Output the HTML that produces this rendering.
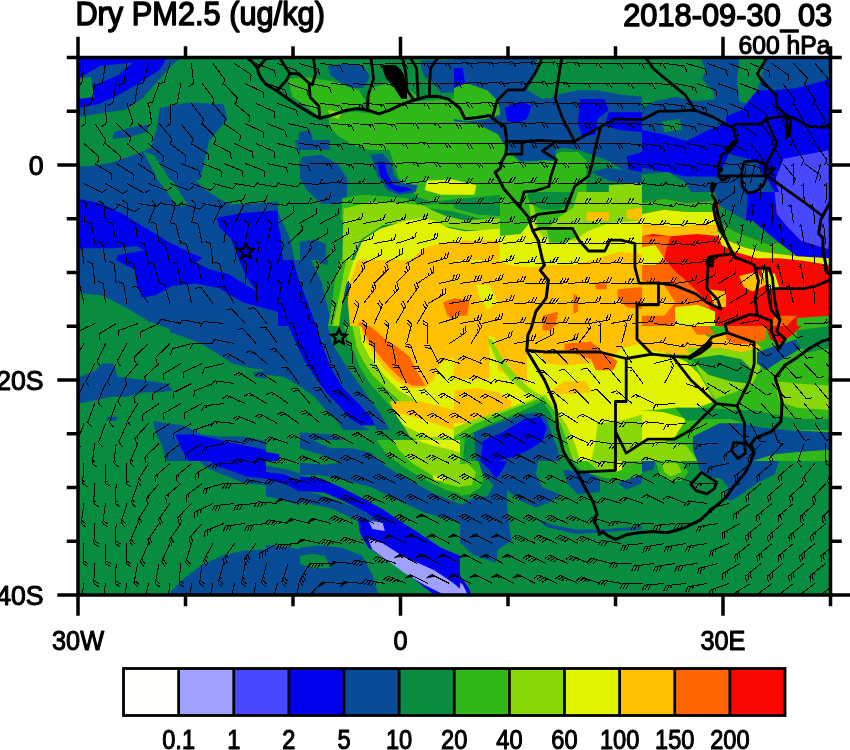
<!DOCTYPE html>
<html><head><meta charset="utf-8"><title>Dry PM2.5</title>
<style>html,body{margin:0;padding:0;background:#fff;}svg{display:block;}</style>
</head><body>
<svg width="850" height="750" viewBox="0 0 850 750">
<defs><clipPath id="c"><rect x="78.00" y="57.50" width="752.50" height="537.50"/></clipPath></defs>
<g clip-path="url(#c)">
<rect x="78.00" y="57.50" width="752.50" height="537.50" fill="#088c40"/>
<defs><clipPath id="t00"><rect x="78" y="57" width="188.5" height="135"/></clipPath><clipPath id="t01"><rect x="266" y="57" width="188.5" height="135"/></clipPath><clipPath id="t02"><rect x="454" y="57" width="188.5" height="135"/></clipPath><clipPath id="t03"><rect x="642" y="57" width="188.5" height="135"/></clipPath><clipPath id="t10"><rect x="78" y="192" width="188.5" height="135"/></clipPath><clipPath id="t11"><rect x="266" y="192" width="188.5" height="135"/></clipPath><clipPath id="t12"><rect x="454" y="192" width="188.5" height="135"/></clipPath><clipPath id="t13"><rect x="642" y="192" width="188.5" height="135"/></clipPath><clipPath id="t20"><rect x="78" y="326" width="188.5" height="135"/></clipPath><clipPath id="t21"><rect x="266" y="326" width="188.5" height="135"/></clipPath><clipPath id="t22"><rect x="454" y="326" width="188.5" height="135"/></clipPath><clipPath id="t23"><rect x="642" y="326" width="188.5" height="135"/></clipPath><clipPath id="t30"><rect x="78" y="461" width="188.5" height="135"/></clipPath><clipPath id="t31"><rect x="266" y="461" width="188.5" height="135"/></clipPath><clipPath id="t32"><rect x="454" y="461" width="188.5" height="135"/></clipPath><clipPath id="t33"><rect x="642" y="461" width="188.5" height="135"/></clipPath><clipPath id="p0"><rect x="300" y="440" width="160" height="155"/></clipPath><clipPath id="p1"><rect x="130" y="140" width="200" height="120"/></clipPath><clipPath id="p2"><rect x="78" y="57" width="200" height="273"/></clipPath><clipPath id="p3"><rect x="300" y="150" width="200" height="110"/></clipPath><clipPath id="p4"><rect x="78" y="180" width="200" height="150"/></clipPath></defs><g clip-path="url(#t00)"><g transform="translate(78 57) scale(0.221176)"><rect x="-5" y="-5" width="860" height="620" fill="#088c40"/><polygon points="0,0 470,0 460,50 425,77 348,149 299,190 240,210 176,244 77,235 0,245" fill="#084c98"/><polygon points="0,100 45,100 50,190 0,200" fill="#088c40"/><polygon points="0,0 150,0 145,40 90,70 0,80" fill="#0000f0"/><polygon points="226,0 393,0 360,60 310,110 220,150 140,200 80,235 60,220 120,170 180,120 230,60" fill="#0000f0"/><polygon points="0,330 100,310 190,260 240,230 300,215 300,250 280,300 200,330 100,380 0,400" fill="#084c98"/><polygon points="0,470 100,460 200,450 270,430 310,440 300,500 330,610 0,610" fill="#084c98"/><polygon points="420,230 560,220 760,215 760,260 700,320 650,350 590,420 560,520 520,520 420,510 370,440 380,350 400,280" fill="#084c98"/><polygon points="560,30 600,30 610,70 570,70" fill="#084c98"/><polygon points="650,380 720,370 700,420 660,430" fill="#084c98"/></g></g>
<g clip-path="url(#t01)"><g transform="translate(266 57) scale(0.221176)"><rect x="-5" y="-5" width="860" height="620" fill="#088c40"/><polygon points="280,40 350,30 440,40 470,90 440,140 380,140 330,110 290,80" fill="#084c98"/><polygon points="700,15 850,15 850,160 790,160 760,120 720,90 700,50" fill="#084c98"/><polygon points="100,100 180,90 300,110 420,150 450,200 400,235 300,250 240,270 180,220 120,180" fill="#30b818"/><polygon points="470,140 560,120 650,150 700,190 650,200 510,260 470,240" fill="#30b818"/><polygon points="280,270 400,245 510,262 650,205 850,185 850,610 590,610 560,500 520,440 470,420 400,400 330,360 290,320" fill="#30b818"/><polygon points="280,240 340,250 330,280 290,270" fill="#88d808"/><polygon points="150,340 200,330 220,400 260,450 320,480 340,540 330,610 170,610 160,520 130,480 100,460 140,420" fill="#084c98"/><polygon points="340,470 470,440 490,610 340,610" fill="#088c40"/><polygon points="470,440 520,430 560,470 580,540 600,590 560,610 500,610 480,540" fill="#084c98"/><polygon points="500,480 530,470 550,520 540,560 520,560 505,520" fill="#0000f0"/><polygon points="540,580 600,570 640,600 620,610 550,610" fill="#0000f0"/><polygon points="620,470 700,440 850,430 850,540 720,550 640,540" fill="#88d808"/><polygon points="720,550 800,540 850,530 850,610 720,610" fill="#e0f400"/></g></g>
<g clip-path="url(#t02)"><g transform="translate(454 57) scale(0.221176)"><rect x="-5" y="-5" width="860" height="620" fill="#088c40"/><polygon points="0,0 380,0 360,90 330,150 400,190 470,170 560,150 650,150 750,170 850,180 850,530 760,510 700,470 620,440 560,420 490,410 420,440 380,470 300,470 240,420 180,360 100,330 0,290" fill="#084c98"/><polygon points="380,0 850,0 850,170 760,160 650,140 560,140 480,160 430,190 370,150 360,90" fill="#088c40"/><polygon points="0,130 60,120 150,150 200,200 210,260 150,280 60,290 0,280" fill="#30b818"/><polygon points="0,50 40,50 50,120 0,140" fill="#0000f0"/><polygon points="230,230 300,200 350,220 330,280 280,300 240,290" fill="#0000f0"/><polygon points="570,190 680,190 700,240 650,280 640,350 580,360 560,300" fill="#0000f0"/><polygon points="700,250 850,250 850,340 750,330 680,310" fill="#0000f0"/><polygon points="780,450 850,430 850,520 790,510" fill="#0000f0"/><polygon points="0,290 100,300 200,350 240,420 300,480 400,470 480,430 560,430 600,470 600,610 0,610" fill="#30b818"/><polygon points="600,450 700,480 780,520 850,540 850,610 600,610" fill="#088c40"/><polygon points="620,520 700,500 850,530 850,580 700,560" fill="#084c98"/><polygon points="300,380 460,380 460,470 330,460" fill="#084c98"/><polygon points="0,500 80,510 110,560 100,610 0,610" fill="#88d808"/><polygon points="0,570 60,560 90,600 90,610 0,610" fill="#e0f400"/><polygon points="700,580 850,570 850,610 700,610" fill="#88d808"/></g></g>
<g clip-path="url(#t03)"><g transform="translate(642 57) scale(0.221176)"><rect x="-5" y="-5" width="860" height="620" fill="#084c98"/><polygon points="0,0 260,0 290,60 270,100 320,150 330,190 250,200 150,180 60,200 0,230" fill="#088c40"/><polygon points="440,0 560,0 540,90 520,150 470,210 440,200 430,100" fill="#088c40"/><polygon points="380,270 450,240 520,150 600,150 700,140 850,100 850,610 600,610 560,540 450,500 400,440 380,380" fill="#0000f0"/><polygon points="0,330 100,350 200,380 300,330 380,300 400,420 350,540 200,540 100,520 0,500" fill="#0000f0"/><polygon points="640,460 850,420 850,610 620,610 600,560" fill="#4848ff"/><polygon points="0,530 120,520 200,570 220,610 0,610" fill="#088c40"/><polygon points="400,440 520,470 560,560 500,610 350,610 340,540" fill="#084c98"/><polygon points="90,290 170,280 180,330 100,340" fill="#088c40"/></g></g>
<g clip-path="url(#t10)"><g transform="translate(78 192) scale(0.221176)"><rect x="-5" y="-5" width="860" height="620" fill="#084c98"/><polygon points="0,30 100,60 200,110 300,170 400,230 500,280 560,290 600,350 700,400 850,470 850,520 800,500 700,450 600,400 500,395 420,410 380,450 320,470 260,390 180,340 170,310 290,300 200,270 60,250 0,240" fill="#0000f0"/><polygon points="630,110 850,90 850,450 800,440 750,350 700,280 690,200 640,150" fill="#0000f0"/><polygon points="370,0 480,0 470,50 420,40" fill="#088c40"/><polygon points="570,0 850,0 850,40 700,50 620,40 580,20" fill="#088c40"/><polygon points="0,450 100,470 200,510 300,560 400,610 0,610" fill="#088c40"/></g></g>
<g clip-path="url(#t11)"><g transform="translate(266 192) scale(0.221176)"><rect x="-5" y="-5" width="860" height="620" fill="#e0f400"/><polygon points="0,220 80,230 150,270 220,320 270,380 320,430 370,470 400,610 0,610" fill="#088c40"/><polygon points="0,0 100,0 130,80 170,150 220,230 270,300 330,360 380,420 430,450 470,470 350,470 320,430 270,380 220,320 150,270 80,230 0,220" fill="#084c98"/><polygon points="0,80 50,70 90,150 110,250 150,400 190,500 230,610 0,610" fill="#0000f0"/><polygon points="60,0 110,0 120,100 150,200 200,300 250,400 290,500 300,610 230,610 190,500 150,400 110,250 90,150 50,70" fill="#084c98"/><polygon points="100,0 370,0 350,100 340,200 340,300 310,400 300,500 280,610 300,610 250,400 200,300 150,200 120,100" fill="#088c40"/><polygon points="160,220 200,220 200,300 170,300" fill="#084c98"/><polygon points="230,210 280,220 280,330 240,320" fill="#084c98"/><polygon points="210,0 260,0 250,40 215,40" fill="#084c98"/><polygon points="370,0 520,0 470,60 420,120 400,200 380,260 360,330 340,420 320,520 300,610 280,610 300,500 310,400 340,300 340,200 350,100" fill="#30b818"/><polygon points="520,0 780,0 850,40 800,100 700,80 600,120 500,150 450,200 410,260 390,330 360,430 340,530 330,610 300,610 320,520 340,420 360,330 380,260 400,200 420,120 470,60" fill="#88d808"/><polygon points="780,0 850,0 850,40" fill="#30b818"/><polygon points="420,300 500,280 600,250 700,230 800,200 850,190 850,610 380,610 370,500 380,400 400,350" fill="#ffc000"/><polygon points="800,500 850,480 850,580 820,560" fill="#ff6600"/><polygon points="420,590 445,590 445,610 420,610" fill="#ff6600"/></g></g>
<g clip-path="url(#t12)"><g transform="translate(454 192) scale(0.221176)"><rect x="-5" y="-5" width="860" height="620" fill="#ffc000"/><polygon points="0,0 850,0 850,280 750,270 650,300 550,330 450,330 350,340 250,330 200,310 100,320 0,310" fill="#e0f400"/><polygon points="0,100 200,110 350,130 400,200 450,210 550,220 600,180 700,140 850,130 850,0 0,0" fill="#88d808"/><polygon points="0,0 330,0 350,130 300,190 200,200 100,170 0,150" fill="#30b818"/><polygon points="350,0 560,0 540,70 480,110 420,170 430,230 500,230 560,200 530,160 450,170 380,170" fill="#30b818"/><polygon points="330,0 540,0 530,50 480,80 400,80 340,50" fill="#088c40"/><polygon points="600,90 700,90 700,130 600,130" fill="#ffc000"/><polygon points="780,80 850,70 850,130 780,120" fill="#ffc000"/><polygon points="100,420 160,420 200,500 150,530 120,480" fill="#e0f400"/><polygon points="0,480 70,490 60,560 0,560" fill="#ff6600"/><polygon points="640,410 690,410 690,440 640,440" fill="#ff6600"/><polygon points="740,440 850,430 850,530 780,520 740,480" fill="#ff6600"/><polygon points="400,560 470,540 460,610 400,610" fill="#ff6600"/><polygon points="540,460 560,470 560,540 540,550" fill="#ff6600"/></g></g>
<g clip-path="url(#t13)"><g transform="translate(642 192) scale(0.221176)"><rect x="-5" y="-5" width="860" height="620" fill="#f80800"/><polygon points="0,0 345,0 345,60 330,40 200,50 100,30 0,50" fill="#088c40"/><polygon points="0,50 100,30 200,50 330,40 345,60 345,100 330,90 200,90 100,80 0,100" fill="#30b818"/><polygon points="0,100 100,80 200,90 330,90 340,150 250,150 150,160 50,150 0,150" fill="#e0f400"/><polygon points="0,150 50,150 150,160 250,150 340,150 350,200 250,190 130,200 50,190 0,200" fill="#ffc000"/><polygon points="0,200 130,200 110,260 100,300 150,360 200,400 250,450 300,500 330,610 0,610" fill="#ff6600"/><polygon points="0,250 60,240 100,300 60,330 0,330" fill="#e0f400"/><polygon points="0,400 100,420 150,500 100,560 0,560" fill="#ffc000"/><polygon points="150,520 250,510 330,540 330,610 150,610" fill="#e0f400"/><polygon points="330,0 480,0 470,130 400,100 350,60" fill="#084c98"/><polygon points="480,0 600,0 610,100 660,160 720,220 850,260 850,300 700,290 620,230 560,180 500,130 470,130" fill="#0000f0"/><polygon points="600,0 850,0 850,260 720,220 660,160 610,100" fill="#4848ff"/><polygon points="350,60 470,130 500,130 560,180 620,230 580,240 500,210 420,180 370,150 340,100" fill="#088c40"/><polygon points="340,100 370,150 420,180 500,210 580,240 620,230 700,290 620,280 540,270 460,250 390,220 340,180" fill="#30b818"/><polygon points="340,180 390,220 460,250 540,270 620,280 700,290 850,300 850,330 720,310 620,300 520,300 420,270 360,240" fill="#e0f400"/><polygon points="440,380 520,360 560,420 500,450 460,430" fill="#ffc000"/><polygon points="300,440 380,450 380,520 330,520" fill="#ffc000"/><polygon points="540,350 600,370 620,430 560,440" fill="#e0f400"/><polygon points="700,570 850,560 850,610 700,610" fill="#30b818"/><polygon points="600,560 700,560 650,610 580,610" fill="#ff6600"/></g></g>
<g clip-path="url(#t20)"><g transform="translate(78 326) scale(0.221176)"><rect x="-5" y="-5" width="860" height="620" fill="#088c40"/><polygon points="400,0 850,0 850,200 780,190 700,170 620,120 560,80 480,50 420,30" fill="#084c98"/><polygon points="10,230 80,200 110,170 160,170 180,230 260,240 330,250 400,260 430,290 380,300 300,300 220,320 150,320 60,340 0,350 0,230" fill="#084c98"/><polygon points="340,430 400,440 480,450 560,490 650,500 750,500 850,520 850,610 400,610 380,540 350,480" fill="#084c98"/><polygon points="440,490 520,490 620,510 700,530 850,560 850,610 500,610 470,560" fill="#0000f0"/><polygon points="130,410 180,410 170,430 130,430" fill="#084c98"/><polygon points="790,210 850,200 850,240 800,230" fill="#084c98"/></g></g>
<g clip-path="url(#t21)"><g transform="translate(266 326) scale(0.221176)"><rect x="-5" y="-5" width="860" height="620" fill="#088c40"/><polygon points="420,0 850,0 850,420 700,360 600,300 540,240 500,190 460,130 430,70" fill="#e0f400"/><polygon points="0,0 100,0 130,80 170,150 220,230 270,300 330,360 380,420 430,450 470,470 350,470 320,430 270,380 220,320 150,270 80,230 0,220" fill="#084c98"/><polygon points="100,0 230,0 260,100 300,200 350,280 420,350 480,420 500,450 430,450 380,420 330,360 270,300 220,230 170,150 130,70" fill="#0000f0"/><polygon points="230,0 280,0 300,80 350,160 420,260 470,330 520,400 560,470 500,470 480,420 420,350 350,280 300,200 260,100" fill="#084c98"/><polygon points="280,0 350,0 370,60 400,120 420,180 470,260 550,350 620,430 680,500 700,540 600,520 560,470 520,400 470,330 420,260 350,160 300,80" fill="#088c40"/><polygon points="350,0 390,0 410,100 440,160 480,220 560,300 650,380 750,440 850,470 850,520 700,520 620,430 550,350 470,260 420,180 400,120 370,60" fill="#30b818"/><polygon points="390,0 420,0 430,70 460,130 500,180 540,230 600,290 700,350 850,400 850,470 750,440 650,380 560,300 480,220 440,160 410,100" fill="#88d808"/><polygon points="430,0 850,0 850,140 790,170 760,240 720,280 640,280 580,240 540,200 500,150 470,100 440,50" fill="#ffc000"/><polygon points="430,0 470,0 540,60 600,100 650,140 680,200 720,270 660,270 600,230 550,180 500,120 460,60" fill="#ff6600"/><polygon points="560,340 700,340 850,380 850,470 750,450 650,420 580,390" fill="#ffc000"/><polygon points="580,390 700,420 850,470 850,510 720,500 620,450" fill="#e0f400"/><polygon points="620,450 720,500 850,510 850,545 720,535 650,500" fill="#88d808"/><polygon points="650,500 720,535 850,545 850,580 700,560" fill="#30b818"/><polygon points="150,480 300,490 400,540 430,610 170,610" fill="#084c98"/><polygon points="0,570 60,580 60,610 0,610" fill="#0000f0"/><polygon points="400,520 700,540 850,520 850,610 430,610" fill="#088c40"/><polygon points="700,530 850,510 850,560 720,560" fill="#30b818"/></g></g>
<g clip-path="url(#t22)"><g transform="translate(454 326) scale(0.221176)"><rect x="-5" y="-5" width="860" height="620" fill="#e0f400"/><polygon points="0,0 850,0 850,80 760,100 700,150 600,170 500,180 420,170 380,130 330,100 280,90 200,60 150,40 100,60 50,100 0,110" fill="#ffc000"/><polygon points="0,0 160,0 160,240 0,240" fill="#ffc000"/><polygon points="180,0 330,0 330,260 200,200" fill="#ffc000"/><polygon points="500,80 620,70 660,110 700,130 740,160 720,200 640,200 620,150 560,130 500,110" fill="#ff6600"/><polygon points="400,0 450,0 440,20 400,20" fill="#ff6600"/><polygon points="150,60 170,60 220,150 280,220 340,280 400,320 380,340 320,300 250,240 200,170" fill="#88d808"/><polygon points="0,290 100,280 200,300 260,340 250,400 200,440 100,440 0,440" fill="#ffc000"/><polygon points="500,250 600,250 620,300 520,310 430,300" fill="#ffc000"/><polygon points="0,460 100,420 250,370 360,330 410,310 460,370 510,450 550,540 570,610 0,610" fill="#88d808"/><polygon points="0,500 100,440 250,380 360,340 400,320 450,380 490,460 520,550 540,610 0,610" fill="#30b818"/><polygon points="50,500 150,450 270,400 360,360 400,340 440,400 480,500 510,610 40,610" fill="#088c40"/><polygon points="90,480 200,440 300,400 380,390 420,420 440,480 470,560 480,610 100,610" fill="#084c98"/><polygon points="130,520 220,480 320,420 390,410 420,460 400,520 340,560 270,590 200,610 120,610" fill="#0000f0"/><polygon points="650,440 750,430 850,400 850,610 620,610 640,520" fill="#88d808"/></g></g>
<g clip-path="url(#t23)"><g transform="translate(642 326) scale(0.221176)"><rect x="-5" y="-5" width="860" height="620" fill="#30b818"/><polygon points="0,0 220,0 300,50 380,40 450,50 520,80 540,100 450,120 350,100 250,130 150,130 50,110 0,100" fill="#ffc000"/><polygon points="220,0 300,0 330,40 250,40" fill="#ff6600"/><polygon points="380,0 560,0 560,60 500,80 420,80 380,60" fill="#ff6600"/><polygon points="560,0 720,0 680,40 620,80 580,60" fill="#f80800"/><polygon points="0,100 100,120 200,160 260,220 300,290 330,340 250,370 150,370 50,380 0,380" fill="#e0f400"/><polygon points="0,380 100,390 200,420 150,500 100,520 0,520" fill="#e0f400"/><polygon points="200,100 350,100 450,120 520,100 540,180 500,260 420,300 330,330 300,280 260,210" fill="#88d808"/><polygon points="220,150 350,130 450,150 500,200 480,260 400,250 300,220" fill="#088c40"/><polygon points="150,370 300,370 420,380 500,380 600,400 700,420 850,420 850,470 700,470 600,470 500,450 400,420 300,420 200,430" fill="#088c40"/><polygon points="230,500 350,440 450,440 550,460 650,470 850,480 850,560 700,570 600,580 500,610 250,610 230,560" fill="#084c98"/><polygon points="520,120 600,90 700,60 720,100 620,160 560,200 520,170" fill="#084c98"/><polygon points="700,20 850,0 850,100 750,120 700,80" fill="#088c40"/><polygon points="0,520 100,520 200,540 250,610 0,610" fill="#88d808"/><polygon points="600,250 700,260 850,270 850,380 700,370 620,340" fill="#88d808"/></g></g>
<g clip-path="url(#t30)"><g transform="translate(78 461) scale(0.221176)"><rect x="-5" y="-5" width="860" height="620" fill="#088c40"/><polygon points="550,0 850,0 850,110 750,100 650,60 580,30" fill="#084c98"/><polygon points="600,0 850,0 850,80 760,70 680,40 620,20" fill="#0000f0"/><polygon points="420,590 480,530 560,470 650,430 750,405 850,400 850,610 410,610" fill="#084c98"/></g></g>
<g clip-path="url(#t31)"><g transform="translate(266 461) scale(0.221176)"><rect x="-5" y="-5" width="860" height="620" fill="#088c40"/><polygon points="300,0 560,0 640,40 720,80 850,110 850,210 720,180 600,140 500,110 400,70 330,30" fill="#084c98"/><polygon points="560,0 850,0 850,110 720,80 640,40" fill="#88d808"/><polygon points="540,0 600,0 650,30 720,70 850,100 850,120 720,90 640,50 560,10" fill="#30b818"/><polygon points="0,20 100,40 200,70 300,100 400,150 500,210 600,260 700,310 850,360 850,600 750,560 650,500 550,440 450,370 350,300 250,250 150,200 50,170 0,160" fill="#084c98"/><polygon points="0,50 80,60 150,90 250,130 350,170 430,220 500,270 560,330 620,370 700,420 780,460 850,490 850,560 760,525 650,460 560,400 480,330 400,270 300,210 200,165 100,110 0,80" fill="#0000f0"/><polygon points="450,360 520,380 600,420 700,460 780,520 850,560 850,590 780,580 700,540 600,480 500,420" fill="#a0a0ff"/><polygon points="470,270 520,270 530,320 480,310" fill="#a0a0ff"/><polygon points="0,380 100,390 200,410 250,460 300,520 350,570 400,610 0,610" fill="#084c98"/><polygon points="430,530 520,560 560,610 450,610" fill="#084c98"/><polygon points="460,540 540,570 570,610 480,610" fill="#0000f0"/></g></g>
<g clip-path="url(#t32)"><g transform="translate(454 461) scale(0.221176)"><rect x="-5" y="-5" width="860" height="620" fill="#088c40"/><polygon points="0,0 120,0 140,60 120,120 70,150 0,160" fill="#30b818"/><polygon points="0,20 60,10 100,50 80,110 0,120" fill="#88d808"/><polygon points="110,0 380,0 370,60 400,120 480,150 430,190 370,210 300,180 240,130 240,200 250,300 260,360 200,400 190,460 130,440 80,420 40,380 0,360 0,210 50,190 100,160 150,160 180,110 130,60" fill="#084c98"/><polygon points="120,0 240,0 220,40 190,80 160,40" fill="#0000f0"/><polygon points="490,40 600,50 660,80 660,140 560,150 520,110" fill="#084c98"/><polygon points="370,260 450,290 550,310 650,310 800,300 850,295 850,310 700,320 550,330 420,300" fill="#084c98"/><polygon points="540,0 850,0 850,60 780,90 700,80 620,60 560,30" fill="#30b818"/><polygon points="600,0 720,0 720,40 650,40" fill="#88d808"/><polygon points="730,0 760,0 760,40 730,50" fill="#e0f400"/><polygon points="740,100 850,60 850,100 780,130" fill="#084c98"/><polygon points="0,500 30,520 70,580 80,610 0,610" fill="#0000f0"/><polygon points="0,530 40,560 60,600 0,610" fill="#a0a0ff"/></g></g>
<g clip-path="url(#t33)"><g transform="translate(642 461) scale(0.221176)"><rect x="-5" y="-5" width="860" height="620" fill="#088c40"/><polygon points="60,0 180,0 210,50 180,90 120,90 80,60" fill="#30b818"/><polygon points="90,10 160,10 180,50 130,70 100,50" fill="#88d808"/><polygon points="0,0 60,0 50,40 0,50" fill="#084c98"/><polygon points="250,0 620,0 600,60 520,100 450,150 400,180 370,170 390,120 360,80 300,70 260,40" fill="#084c98"/></g></g>
<g clip-path="url(#p0)"><g transform="translate(300 440) scale(0.206718)"><rect x="-5" y="-5" width="784" height="759" fill="#088c40"/><polygon points="370,0 774,0 774,260 700,240 600,190 500,130 420,70" fill="#30b818"/><polygon points="450,0 774,0 774,230 700,210 620,160 540,110 480,50" fill="#88d808"/><polygon points="560,0 774,0 774,60 700,40 620,20" fill="#e0f400"/><polygon points="640,170 700,180 700,200 650,195" fill="#e0f400"/><polygon points="0,0 60,0 150,40 250,40 340,60 420,130 520,190 650,260 774,310 774,400 600,350 450,280 350,230 200,190 100,170 0,170" fill="#084c98"/><polygon points="0,40 100,70 200,110 120,120 0,110" fill="#088c40"/><polygon points="0,240 150,280 300,340 450,420 600,500 774,560 774,620 600,560 450,480 300,400 150,330 0,300" fill="#084c98"/><polygon points="0,175 100,185 200,230 300,280 400,335 480,390 560,440 680,520 774,560 774,590 700,580 620,550 520,490 420,420 320,350 220,300 120,255 0,245" fill="#0000f0"/><polygon points="280,380 400,400 500,450 600,510 700,570 774,600 774,750 650,750 560,680 450,600 330,520 290,450" fill="#0000f0"/><polygon points="330,480 400,500 480,550 560,590 650,630 740,690 774,720 774,750 700,750 600,700 500,640 420,580 350,530" fill="#a0a0ff"/><polygon points="330,390 400,400 410,440 350,430" fill="#a0a0ff"/><polygon points="0,520 100,510 200,520 300,560 350,650 380,750 0,750" fill="#084c98"/><polygon points="0,560 60,550 120,560 150,620 60,620 0,600" fill="#088c40"/></g></g>
<g clip-path="url(#p1)"><g transform="translate(130 140) scale(0.235294)"><rect x="-5" y="-5" width="860" height="520" fill="#084c98"/><polygon points="0,0 130,0 120,40 60,60 0,50" fill="#088c40"/><polygon points="70,90 110,70 150,130 200,200 240,280 200,280 150,220 100,160" fill="#088c40"/><polygon points="320,0 700,0 720,60 720,120 760,180 800,230 850,230 850,510 700,510 680,420 640,330 620,280 450,275 380,260 320,190 280,130 300,60" fill="#088c40"/><polygon points="0,340 60,350 150,400 250,450 300,510 0,510" fill="#0000f0"/><polygon points="370,330 450,315 580,305 620,330 640,400 650,510 450,510 420,420 380,370" fill="#0000f0"/></g></g>
<g clip-path="url(#p2)"><g transform="translate(78 57) scale(0.364299)"><rect x="-5" y="-5" width="559" height="759" fill="#084c98"/><polygon points="0,0 245,0 225,35 170,70 110,105 55,130 0,140" fill="#0000f0"/><polygon points="60,25 150,15 110,50 50,75 0,85 0,60" fill="#084c98"/><polygon points="0,60 35,55 45,110 0,115" fill="#088c40"/><polygon points="0,165 60,155 130,145 175,115 215,70 255,25 285,0 549,0 549,410 450,415 380,400 330,360 360,230 410,170 400,130 300,125 225,140 215,200 200,250 150,270 90,290 30,300 0,300" fill="#088c40"/><polygon points="100,205 160,190 195,185 190,205 140,220 95,225" fill="#084c98"/><polygon points="180,260 210,270 260,350 290,400 260,400 220,340" fill="#088c40"/><polygon points="0,390 60,395 130,420 200,450 280,490 350,530 430,580 500,630 549,650 549,750 470,750 400,700 320,640 230,590 150,560 60,550 0,560" fill="#0000f0"/><polygon points="380,430 460,420 549,400 549,650 500,620 470,560 430,500" fill="#0000f0"/><polygon points="0,470 80,470 160,500 250,540 330,590 400,640 380,660 300,620 200,580 110,545 0,545" fill="#084c98"/><polygon points="0,640 80,650 160,690 230,750 0,750" fill="#088c40"/></g></g>
<g clip-path="url(#p3)"><g transform="translate(300 150) scale(0.235294)"><rect x="-5" y="-5" width="860" height="477" fill="#088c40"/><polygon points="380,0 850,0 850,190 760,200 650,210 560,220 500,200 470,170 420,120 400,60" fill="#30b818"/><polygon points="10,30 90,20 160,60 200,120 200,200 160,230 90,230 30,170 0,120 0,60" fill="#084c98"/><polygon points="180,205 260,190 350,195 450,205 520,235 600,225 850,225 850,300 760,290 650,260 560,250 450,250 300,260 200,300 175,300" fill="#30b818"/><polygon points="640,215 850,200 850,280 760,275 660,250" fill="#088c40"/><polygon points="540,130 650,125 750,150 740,190 600,190 530,170" fill="#e0f400"/><polygon points="185,250 300,220 420,225 520,235 560,255 620,280 700,300 850,290 850,340 700,340 600,320 500,300 350,320 260,380 215,468 180,468" fill="#88d808"/><polygon points="230,468 265,385 340,335 450,300 520,290 570,300 630,330 700,345 850,335 850,468" fill="#e0f400"/><polygon points="470,468 520,420 600,395 700,385 850,385 850,468" fill="#ffc000"/><polygon points="300,20 350,15 390,60 400,110 430,140 500,150 490,180 420,190 370,170 330,110" fill="#084c98"/><polygon points="330,50 360,50 370,100 400,150 460,160 480,170 420,182 380,162 340,110" fill="#0000f0"/><polygon points="0,390 60,380 110,400 110,468 0,468" fill="#084c98"/></g></g>
<g clip-path="url(#p4)"><g transform="translate(78 180) scale(0.235294)"><rect x="-5" y="-5" width="860" height="647" fill="#084c98"/><polygon points="340,0 400,0 470,110 420,110" fill="#088c40"/><polygon points="500,0 850,0 850,90 760,100 650,105 600,80 540,40" fill="#088c40"/><polygon points="0,80 100,100 200,150 280,200 380,260 480,310 530,330 500,350 560,380 640,400 720,450 850,520 850,560 700,520 600,460 500,440 400,450 330,490 270,500 250,440 240,380 160,340 170,320 280,300 250,280 150,290 0,290" fill="#0000f0"/><polygon points="590,160 700,140 850,130 850,520 780,500 720,420 680,330 650,250 600,200" fill="#0000f0"/><polygon points="0,480 100,490 200,540 300,600 400,638 0,638" fill="#088c40"/></g></g>
<path d="M84.0 63.5L81.9 83.4M81.9 83.4l-5.5 2.4M105.5 63.5L102.3 83.2M102.3 83.2l-5.6 2.1M127.0 63.5L124.1 83.3M124.1 83.3l-5.6 2.2M148.5 63.5L143.4 82.8M143.4 82.8l-5.8 1.6M170.0 63.5L164.1 82.6M164.1 82.6l-5.8 1.3M191.5 63.5L193.5 83.4M193.5 83.4l-4.9 3.5M213.0 63.5L224.9 79.6M224.9 79.6l-2.4 5.5M234.5 63.5L251.1 74.6M251.1 74.6l-0.4 6.0M256.0 63.5L274.6 70.7M274.6 70.7l0.9 5.9M277.5 63.5L296.3 70.3M296.3 70.3l1.1 5.9M299.0 63.5L318.2 69.1M318.2 69.1l1.4 5.8M320.5 63.5L340.3 66.0M340.3 66.0l2.3 5.5M342.0 63.5L361.9 65.2M361.9 65.2l2.5 5.4M363.5 63.5L383.4 64.9M383.4 64.9l2.6 5.4M380.5 64.7l1.3 2.7M385.0 63.5L405.0 63.7M405.0 63.7l2.9 5.2M402.0 63.7l1.5 2.6M406.5 63.5L426.5 63.5M426.5 63.5l3.0 5.2M423.5 63.5l1.5 2.6M428.0 63.5L448.0 63.3M448.0 63.3l3.0 5.2M445.0 63.4l1.5 2.6M449.5 63.5L469.5 62.7M469.5 62.7l3.2 5.1M466.5 62.8l1.6 2.5M471.0 63.5L490.9 62.1M490.9 62.1l3.4 5.0M488.0 62.3l1.7 2.5M492.5 63.5L512.4 61.8M512.4 61.8l3.4 4.9M509.4 62.1l1.7 2.5M514.0 63.5L533.9 61.8M533.9 61.8l3.4 4.9M530.9 62.0l1.7 2.5M535.5 63.5L555.4 61.9M555.4 61.9l3.4 4.9M552.4 62.2l1.7 2.5M557.0 63.5L577.0 62.5M577.0 62.5l3.3 5.0M574.0 62.7l1.6 2.5M578.5 63.5L598.5 63.2M598.5 63.2l3.1 5.2M595.5 63.3l1.5 2.6M600.0 63.5L620.0 63.5M620.0 63.5l3.0 5.2M617.0 63.5l1.5 2.6M621.5 63.5L641.5 63.5M641.5 63.5l3.0 5.2M638.5 63.5l1.5 2.6M643.0 63.5L663.0 63.9M663.0 63.9l2.9 5.3M660.0 63.9l1.4 2.6M664.5 63.5L684.4 65.9M684.4 65.9l2.4 5.5M681.4 65.5l1.2 2.8M686.0 63.5L705.3 68.8M705.3 68.8l1.5 5.8M707.5 63.5L726.3 70.2M726.3 70.2l1.1 5.9M729.0 63.5L747.8 70.4M747.8 70.4l1.0 5.9M750.5 63.5L768.9 71.2M768.9 71.2l0.8 6.0M772.0 63.5L788.4 75.0M788.4 75.0l-0.5 6.0M793.5 63.5L807.3 78.0M807.3 78.0l-1.7 5.8M815.0 63.5L828.1 78.6M828.1 78.6l-2.0 5.7M836.5 63.5L850.3 78.0M850.3 78.0l-1.7 5.8M94.8 83.5L91.7 103.3M91.7 103.3l-5.6 2.2M116.2 83.5L112.8 103.2M112.8 103.2l-5.6 2.1M137.8 83.5L134.8 103.3M134.8 103.3l-5.6 2.2M159.2 83.5L152.5 102.3M152.5 102.3l-5.9 1.1M180.8 83.5L177.2 103.2M177.2 103.2l-5.6 2.0M202.2 83.5L214.3 99.5M214.3 99.5l-2.4 5.5M223.8 83.5L237.4 98.1M237.4 98.1l-1.8 5.7M245.2 83.5L263.2 92.2M263.2 92.2l0.4 6.0M266.8 83.5L285.5 90.3M285.5 90.3l1.0 5.9M288.2 83.5L307.1 90.2M307.1 90.2l1.1 5.9M309.8 83.5L329.4 87.3M329.4 87.3l1.9 5.7M331.2 83.5L351.2 85.3M351.2 85.3l2.5 5.4M352.8 83.5L372.7 85.2M372.7 85.2l2.5 5.4M374.2 83.5L394.2 84.3M394.2 84.3l2.8 5.3M391.2 84.1l1.4 2.7M395.8 83.5L415.7 83.5M415.7 83.5l3.0 5.2M412.7 83.5l1.5 2.6M417.2 83.5L437.2 83.5M437.2 83.5l3.0 5.2M434.2 83.5l1.5 2.6M438.8 83.5L458.7 83.1M458.7 83.1l3.1 5.1M455.7 83.1l1.6 2.6M460.2 83.5L480.2 82.4M480.2 82.4l3.3 5.0M477.2 82.6l1.6 2.5M481.8 83.5L501.7 81.9M501.7 81.9l3.4 4.9M498.7 82.1l1.7 2.5M503.2 83.5L523.2 81.8M523.2 81.8l3.4 4.9M520.2 82.0l1.7 2.5M524.8 83.5L544.7 81.8M544.7 81.8l3.4 4.9M541.7 82.1l1.7 2.5M546.2 83.5L566.2 82.2M566.2 82.2l3.3 5.0M563.2 82.4l1.7 2.5M567.8 83.5L587.7 83.0M587.7 83.0l3.1 5.1M584.7 83.0l1.6 2.6M589.2 83.5L609.2 83.4M609.2 83.4l3.0 5.2M606.2 83.5l1.5 2.6M610.8 83.5L630.7 83.5M630.7 83.5l3.0 5.2M627.7 83.5l1.5 2.6M632.2 83.5L652.2 83.6M652.2 83.6l3.0 5.2M649.2 83.6l1.5 2.6M653.8 83.5L673.7 84.7M673.7 84.7l2.7 5.4M670.7 84.5l1.3 2.7M675.2 83.5L694.9 87.4M694.9 87.4l1.9 5.7M691.9 86.8l1.0 2.8M696.8 83.5L715.7 89.8M715.7 89.8l1.2 5.9M718.2 83.5L737.0 90.3M737.0 90.3l1.0 5.9M739.8 83.5L758.5 90.5M758.5 90.5l1.0 5.9M761.2 83.5L777.9 94.6M777.9 94.6l-0.4 6.0M782.8 83.5L794.8 99.4M794.8 99.4l-2.3 5.5M804.2 83.5L815.2 100.2M815.2 100.2l-2.7 5.4M825.8 83.5L837.4 99.8M837.4 99.8l-2.5 5.5M84.0 103.5L85.8 123.4M85.8 123.4l-4.9 3.5M105.5 103.5L106.4 123.5M106.4 123.5l-5.1 3.2M127.0 103.5L133.0 122.6M133.0 122.6l-4.1 4.4M148.5 103.5L151.8 123.2M151.8 123.2l-4.6 3.8M170.0 103.5L170.8 123.5M170.8 123.5l-5.1 3.2M191.5 103.5L203.7 119.4M203.7 119.4l-2.3 5.5M213.0 103.5L225.9 118.8M225.9 118.8l-2.0 5.6M234.5 103.5L249.9 116.2M249.9 116.2l-1.0 5.9M256.0 103.5L274.3 111.5M274.3 111.5l0.7 6.0M277.5 103.5L296.4 110.1M296.4 110.1l1.1 5.9M299.0 103.5L318.4 108.3M318.4 108.3l1.7 5.8M320.5 103.5L340.4 105.7M340.4 105.7l2.4 5.5M337.4 105.4l1.2 2.8M342.0 103.5L361.9 105.1M361.9 105.1l2.6 5.4M358.9 104.9l1.3 2.7M363.5 103.5L383.5 104.7M383.5 104.7l2.7 5.4M380.5 104.5l1.3 2.7M385.0 103.5L405.0 103.7M405.0 103.7l2.9 5.2M402.0 103.7l1.5 2.6M406.5 103.5L426.5 103.4M426.5 103.4l3.0 5.2M423.5 103.4l1.5 2.6M428.0 103.5L448.0 103.2M448.0 103.2l3.1 5.1M445.0 103.2l1.5 2.6M449.5 103.5L469.5 102.9M469.5 102.9l3.2 5.1M466.5 103.0l3.2 5.1M471.0 103.5L491.0 102.5M491.0 102.5l3.3 5.0M488.0 102.6l3.3 5.0M492.5 103.5L512.4 102.0M512.4 102.0l3.4 5.0M509.5 102.2l1.7 2.5M514.0 103.5L533.9 101.9M533.9 101.9l3.4 4.9M530.9 102.1l1.7 2.5M535.5 103.5L555.5 102.3M555.5 102.3l3.3 5.0M552.5 102.5l1.7 2.5M557.0 103.5L577.0 102.9M577.0 102.9l3.1 5.1M574.0 103.0l3.1 5.1M578.5 103.5L598.5 103.3M598.5 103.3l3.1 5.2M595.5 103.3l1.5 2.6M600.0 103.5L620.0 103.5M620.0 103.5l3.0 5.2M617.0 103.5l1.5 2.6M621.5 103.5L641.5 103.7M641.5 103.7l3.0 5.2M638.5 103.7l1.5 2.6M643.0 103.5L663.0 104.6M663.0 104.6l2.7 5.4M660.0 104.4l1.4 2.7M664.5 103.5L684.3 106.2M684.3 106.2l2.3 5.6M681.3 105.8l1.1 2.8M686.0 103.5L705.5 107.8M705.5 107.8l1.8 5.7M702.6 107.2l0.9 2.9M707.5 103.5L726.5 109.8M726.5 109.8l1.2 5.9M729.0 103.5L747.6 110.8M747.6 110.8l0.9 5.9M750.5 103.5L767.1 114.6M767.1 114.6l-0.4 6.0M772.0 103.5L783.6 119.8M783.6 119.8l-2.5 5.5M793.5 103.5L803.5 120.8M803.5 120.8l-3.0 5.2M815.0 103.5L825.3 120.7M825.3 120.7l-2.9 5.2M836.5 103.5L848.1 119.8M848.1 119.8l-2.5 5.5M94.8 123.5L105.9 140.1M105.9 140.1l-2.6 5.4M116.2 123.5L130.8 137.2M130.8 137.2l-1.4 5.8M137.8 123.5L152.9 136.6M152.9 136.6l-1.1 5.9M159.2 123.5L172.0 138.9M172.0 138.9l-2.1 5.6M180.8 123.5L193.2 139.1M193.2 139.1l-2.2 5.6M202.2 123.5L216.1 137.9M216.1 137.9l-1.7 5.8M223.8 123.5L240.3 134.7M240.3 134.7l-0.4 6.0M245.2 123.5L263.3 132.2M263.3 132.2l0.4 6.0M266.8 123.5L285.4 130.7M285.4 130.7l0.9 5.9M288.2 123.5L307.7 128.2M307.7 128.2l1.7 5.8M309.8 123.5L329.6 125.8M329.6 125.8l2.4 5.5M326.6 125.5l1.2 2.8M331.2 123.5L351.2 125.1M351.2 125.1l2.6 5.4M348.2 124.8l1.3 2.7M352.8 123.5L372.7 125.0M372.7 125.0l2.6 5.4M369.7 124.8l1.3 2.7M374.2 123.5L394.2 124.3M394.2 124.3l2.8 5.3M391.2 124.2l1.4 2.7M395.8 123.5L415.7 123.4M415.7 123.4l3.0 5.2M412.7 123.4l1.5 2.6M417.2 123.5L437.2 123.0M437.2 123.0l3.1 5.1M434.2 123.1l1.6 2.6M438.8 123.5L458.7 123.2M458.7 123.2l3.1 5.2M455.7 123.3l3.1 5.2M460.2 123.5L480.2 123.3M480.2 123.3l3.0 5.2M477.2 123.3l3.0 5.2M481.8 123.5L501.7 122.8M501.7 122.8l3.2 5.1M498.7 122.9l3.2 5.1M503.2 123.5L523.2 122.3M523.2 122.3l3.3 5.0M520.2 122.5l3.3 5.0M524.8 123.5L544.7 122.6M544.7 122.6l3.2 5.1M541.7 122.7l3.2 5.1M546.2 123.5L566.2 123.3M566.2 123.3l3.1 5.2M563.2 123.3l3.1 5.2M567.8 123.5L587.7 123.4M587.7 123.4l3.0 5.2M584.7 123.4l3.0 5.2M589.2 123.5L609.2 123.4M609.2 123.4l3.0 5.2M606.2 123.4l3.0 5.2M610.8 123.5L630.7 123.9M630.7 123.9l2.9 5.2M627.7 123.8l1.5 2.6M632.2 123.5L652.2 125.0M652.2 125.0l2.6 5.4M649.2 124.8l1.3 2.7M653.8 123.5L673.5 126.5M673.5 126.5l2.2 5.6M670.6 126.1l1.1 2.8M675.2 123.5L695.0 126.9M695.0 126.9l2.1 5.6M692.0 126.4l1.0 2.8M696.8 123.5L716.4 127.4M716.4 127.4l1.9 5.7M713.4 126.8l1.0 2.8M718.2 123.5L737.2 129.9M737.2 129.9l1.2 5.9M739.8 123.5L756.0 135.1M756.0 135.1l-0.6 6.0M761.2 123.5L772.8 139.8M772.8 139.8l-2.5 5.5M782.8 123.5L793.1 140.6M793.1 140.6l-2.9 5.3M804.2 123.5L814.4 140.7M814.4 140.7l-3.0 5.2M825.8 123.5L836.8 140.2M836.8 140.2l-2.7 5.4M84.0 143.5L99.0 156.7M99.0 156.7l-1.2 5.9M105.5 143.5L120.7 156.4M120.7 156.4l-1.1 5.9M127.0 143.5L142.3 156.4M142.3 156.4l-1.0 5.9M148.5 143.5L163.8 156.4M163.8 156.4l-1.1 5.9M170.0 143.5L186.0 155.5M186.0 155.5l-0.7 6.0M191.5 143.5L208.4 154.2M208.4 154.2l-0.3 6.0M213.0 143.5L230.8 152.7M230.8 152.7l0.3 6.0M234.5 143.5L252.6 152.0M252.6 152.0l0.5 6.0M256.0 143.5L274.3 151.6M274.3 151.6l0.7 6.0M277.5 143.5L296.9 148.4M296.9 148.4l1.6 5.8M299.0 143.5L318.9 145.7M318.9 145.7l2.4 5.5M315.9 145.4l1.2 2.7M320.5 143.5L340.5 144.8M340.5 144.8l2.6 5.4M337.5 144.6l1.3 2.7M342.0 143.5L361.9 145.2M361.9 145.2l2.5 5.4M358.9 145.0l1.3 2.7M363.5 143.5L383.4 145.0M383.4 145.0l2.6 5.4M380.5 144.8l1.3 2.7M385.0 143.5L405.0 143.5M405.0 143.5l3.0 5.2M402.0 143.5l1.5 2.6M406.5 143.5L426.5 142.7M426.5 142.7l3.2 5.1M423.5 142.8l1.6 2.5M428.0 143.5L448.0 143.1M448.0 143.1l3.1 5.1M445.0 143.2l3.1 5.1M449.5 143.5L469.5 143.5M469.5 143.5l3.0 5.2M466.5 143.5l3.0 5.2M471.0 143.5L491.0 143.4M491.0 143.4l3.0 5.2M488.0 143.4l3.0 5.2M492.5 143.5L512.5 142.7M512.5 142.7l3.2 5.1M509.5 142.9l3.2 5.1M514.0 143.5L534.0 142.6M534.0 142.6l3.2 5.1M531.0 142.7l3.2 5.1M535.5 143.5L555.5 143.2M555.5 143.2l3.1 5.2M552.5 143.3l3.1 5.2M557.0 143.5L577.0 143.5M577.0 143.5l3.0 5.2M574.0 143.5l3.0 5.2M578.5 143.5L598.5 143.5M598.5 143.5l3.0 5.2M595.5 143.5l3.0 5.2M600.0 143.5L620.0 143.6M620.0 143.6l3.0 5.2M617.0 143.6l3.0 5.2M621.5 143.5L641.5 144.6M641.5 144.6l2.7 5.4M638.5 144.5l1.3 2.7M643.0 143.5L662.8 146.4M662.8 146.4l2.2 5.6M659.8 145.9l1.1 2.8M664.5 143.5L684.2 147.0M684.2 147.0l2.1 5.6M681.2 146.4l1.0 2.8M686.0 143.5L705.7 146.9M705.7 146.9l2.1 5.6M702.8 146.4l1.0 2.8M707.5 143.5L727.2 147.0M727.2 147.0l2.0 5.6M724.2 146.5l1.0 2.8M729.0 143.5L747.4 151.3M747.4 151.3l0.7 6.0M750.5 143.5L762.9 159.2M762.9 159.2l-2.2 5.6M772.0 143.5L782.0 160.8M782.0 160.8l-3.0 5.2M793.5 143.5L803.9 160.6M803.9 160.6l-2.9 5.3M815.0 143.5L826.9 159.6M826.9 159.6l-2.4 5.5M836.5 143.5L850.5 157.8M850.5 157.8l-1.6 5.8M94.8 163.5L111.9 173.8M111.9 173.8l-0.1 6.0M116.2 163.5L133.2 174.1M133.2 174.1l-0.2 6.0M137.8 163.5L154.4 174.6M154.4 174.6l-0.4 6.0M159.2 163.5L177.0 172.6M177.0 172.6l0.3 6.0M180.8 163.5L199.4 170.7M199.4 170.7l0.9 5.9M202.2 163.5L221.0 170.6M221.0 170.6l1.0 5.9M223.8 163.5L242.3 170.9M242.3 170.9l0.9 5.9M245.2 163.5L263.9 170.6M263.9 170.6l0.9 5.9M266.8 163.5L286.3 167.5M286.3 167.5l1.9 5.7M288.2 163.5L308.1 166.0M308.1 166.0l2.3 5.5M309.8 163.5L329.7 164.0M329.7 164.0l2.9 5.3M326.7 163.9l1.4 2.6M331.2 163.5L351.2 164.2M351.2 164.2l2.8 5.3M348.2 164.1l1.4 2.6M352.8 163.5L372.7 164.4M372.7 164.4l2.8 5.3M369.7 164.3l1.4 2.7M374.2 163.5L394.2 163.3M394.2 163.3l3.0 5.2M391.2 163.3l1.5 2.6M395.8 163.5L415.7 162.1M415.7 162.1l3.3 5.0M412.7 162.3l1.7 2.5M417.2 163.5L437.2 162.3M437.2 162.3l3.3 5.0M434.2 162.5l3.3 5.0M438.8 163.5L458.7 163.1M458.7 163.1l3.1 5.1M455.7 163.1l3.1 5.1M460.2 163.5L480.2 163.3M480.2 163.3l3.1 5.2M477.2 163.3l3.1 5.2M481.8 163.5L501.7 162.9M501.7 162.9l3.2 5.1M498.7 163.0l3.2 5.1M503.2 163.5L523.2 162.5M523.2 162.5l3.3 5.0M520.2 162.6l3.3 5.0M524.8 163.5L544.7 162.8M544.7 162.8l3.2 5.1M541.7 162.9l3.2 5.1M546.2 163.5L566.2 163.3M566.2 163.3l3.1 5.2M563.2 163.3l3.1 5.2M567.8 163.5L587.7 163.4M587.7 163.4l3.0 5.2M584.7 163.4l3.0 5.2M589.2 163.5L609.2 163.4M609.2 163.4l3.0 5.2M606.2 163.4l3.0 5.2M610.8 163.5L630.7 163.9M630.7 163.9l2.9 5.3M627.7 163.8l2.9 5.3M632.2 163.5L652.2 165.3M652.2 165.3l2.5 5.4M649.2 165.0l1.3 2.7M653.8 163.5L673.5 166.5M673.5 166.5l2.2 5.6M670.6 166.0l1.1 2.8M675.2 163.5L695.0 166.7M695.0 166.7l2.1 5.6M692.0 166.2l1.1 2.8M696.8 163.5L716.6 165.9M716.6 165.9l2.4 5.5M713.6 165.5l1.2 2.8M718.2 163.5L738.2 164.5M738.2 164.5l2.7 5.3M739.8 163.5L759.4 167.3M759.4 167.3l2.0 5.7M761.2 163.5L775.9 177.1M775.9 177.1l-1.3 5.8M782.8 163.5L795.4 179.0M795.4 179.0l-2.1 5.6M804.2 163.5L820.4 175.2M820.4 175.2l-0.6 6.0M825.8 163.5L844.4 170.6M844.4 170.6l0.9 5.9M84.0 183.5L101.8 192.6M101.8 192.6l5.0 -3.3M105.5 183.5L122.8 193.5M122.8 193.5l5.2 -3.0M127.0 183.5L144.5 193.2M144.5 193.2l5.1 -3.1M148.5 183.5L167.2 190.7M167.2 190.7l4.7 -3.8M170.0 183.5L188.9 190.2M188.9 190.2l4.6 -3.9M191.5 183.5L210.3 190.3M210.3 190.3l4.6 -3.9M213.0 183.5L232.3 188.7M232.3 188.7l4.3 -4.2M234.5 183.5L254.2 186.7M254.2 186.7l3.8 -4.6M256.0 183.5L275.7 186.7M275.7 186.7l3.8 -4.6M277.5 183.5L297.2 186.9M297.2 186.9l3.8 -4.6M299.0 183.5L319.0 184.3M319.0 184.3l3.2 -5.1M320.5 183.5L340.5 182.3M340.5 182.3l2.7 -5.4M337.5 182.5l1.3 -2.7M342.0 183.5L362.0 183.3M362.0 183.3l2.9 -5.2M359.0 183.3l1.5 -2.6M363.5 183.5L383.5 182.9M383.5 182.9l2.8 -5.3M380.5 183.0l1.4 -2.6M385.0 183.5L404.9 181.5M404.9 181.5l2.5 -5.5M401.9 181.8l1.2 -2.7M406.5 183.5L426.4 181.2M426.4 181.2l2.4 -5.5M423.4 181.6l2.4 -5.5M428.0 183.5L448.0 182.5M448.0 182.5l2.7 -5.3M445.0 182.7l2.7 -5.3M449.5 183.5L469.5 183.4M469.5 183.4l3.0 -5.2M466.5 183.4l3.0 -5.2M471.0 183.5L491.0 183.1M491.0 183.1l2.9 -5.2M488.0 183.2l2.9 -5.2M492.5 183.5L512.5 182.4M512.5 182.4l2.7 -5.3M509.5 182.6l2.7 -5.3M514.0 183.5L534.0 182.4M534.0 182.4l2.7 -5.4M531.0 182.6l2.7 -5.4M535.5 183.5L555.5 183.1M555.5 183.1l2.9 -5.3M552.5 183.1l2.9 -5.3M557.0 183.5L577.0 183.4M577.0 183.4l3.0 -5.2M574.0 183.4l3.0 -5.2M578.5 183.5L598.5 183.4M598.5 183.4l3.0 -5.2M595.5 183.4l3.0 -5.2M600.0 183.5L620.0 183.4M620.0 183.4l3.0 -5.2M617.0 183.4l3.0 -5.2M621.5 183.5L641.5 184.3M641.5 184.3l3.2 -5.1M638.5 184.2l1.6 -2.5M643.0 183.5L662.9 185.9M662.9 185.9l3.6 -4.8M659.9 185.6l1.8 -2.4M664.5 183.5L684.2 186.8M684.2 186.8l3.8 -4.6M681.3 186.3l1.9 -2.3M686.0 183.5L705.8 186.3M705.8 186.3l3.7 -4.7M702.8 185.9l1.8 -2.4M707.5 183.5L727.5 182.6M727.5 182.6l2.8 -5.3M724.5 182.8l1.4 -2.7M729.0 183.5L745.8 172.7M745.8 172.7l-0.3 -6.0M750.5 183.5L755.3 164.1M754.6 167.0l-2.2 -2.1M772.0 183.5L771.0 163.5M771.2 166.5l-2.7 -1.4M793.5 183.5L793.8 163.5M793.7 166.5l-2.6 -1.5M815.0 183.5L820.8 164.3M819.9 167.2l-2.1 -2.2M836.5 183.5L847.2 166.6M847.2 166.6l-2.8 -5.3M94.8 203.5L113.5 210.3M113.5 210.3l4.6 -3.9M116.2 203.5L134.5 211.7M134.5 211.7l4.9 -3.5M137.8 203.5L157.5 206.3M157.5 206.3l3.7 -4.7M159.2 203.5L179.1 205.8M179.1 205.8l3.6 -4.8M180.8 203.5L199.9 209.1M199.9 209.1l4.3 -4.1M202.2 203.5L221.9 207.2M221.9 207.2l3.9 -4.5M223.8 203.5L243.4 199.7M243.4 199.7l2.0 -5.7M245.2 203.5L265.1 200.9M265.1 200.9l2.3 -5.5M266.8 203.5L286.7 205.4M286.7 205.4l3.5 -4.9M288.2 203.5L308.2 203.4M308.2 203.4l3.0 -5.2M309.8 203.5L329.2 198.9M329.2 198.9l1.7 -5.7M326.3 199.6l0.9 -2.9M331.2 203.5L351.2 202.4M351.2 202.4l2.7 -5.4M348.2 202.6l1.4 -2.7M352.8 203.5L372.7 203.4M372.7 203.4l3.0 -5.2M369.7 203.4l1.5 -2.6M374.2 203.5L394.1 201.2M394.1 201.2l2.4 -5.5M391.1 201.5l1.2 -2.8M395.8 203.5L415.4 199.9M415.4 199.9l2.0 -5.7M412.5 200.4l1.0 -2.8M417.2 203.5L437.1 201.2M437.1 201.2l2.4 -5.5M434.1 201.5l2.4 -5.5M438.8 203.5L458.7 203.1M458.7 203.1l2.9 -5.2M455.7 203.2l2.9 -5.2M460.2 203.5L480.2 203.5M480.2 203.5l3.0 -5.2M477.2 203.5l3.0 -5.2M481.8 203.5L501.7 202.7M501.7 202.7l2.8 -5.3M498.7 202.8l2.8 -5.3M503.2 203.5L523.2 202.0M523.2 202.0l2.6 -5.4M520.2 202.2l2.6 -5.4M524.8 203.5L544.7 202.6M544.7 202.6l2.8 -5.3M541.7 202.7l2.8 -5.3M546.2 203.5L566.2 203.4M566.2 203.4l3.0 -5.2M563.2 203.4l3.0 -5.2M567.8 203.5L587.7 203.5M587.7 203.5l3.0 -5.2M584.7 203.5l3.0 -5.2M589.2 203.5L609.2 203.3M609.2 203.3l2.9 -5.2M606.2 203.3l2.9 -5.2M610.8 203.5L630.7 203.5M630.7 203.5l3.0 -5.2M627.7 203.5l3.0 -5.2M632.2 203.5L652.2 204.9M652.2 204.9l3.4 -5.0M649.2 204.7l1.7 -2.5M653.8 203.5L673.5 206.6M673.5 206.6l3.8 -4.7M670.5 206.1l1.9 -2.3M675.2 203.5L695.0 206.9M695.0 206.9l3.8 -4.6M692.0 206.4l1.9 -2.3M696.8 203.5L716.7 204.2M716.7 204.2l3.2 -5.1M713.7 204.1l1.6 -2.5M718.2 203.5L734.8 192.2M734.8 192.2l-0.5 -6.0M739.8 203.5L745.7 184.4M745.7 184.4l-4.1 -4.4M761.2 203.5L760.4 183.5M760.6 186.5l-2.7 -1.4M782.8 203.5L781.1 183.6M781.3 186.6l-2.7 -1.3M804.2 203.5L803.6 183.5M803.7 186.5l-2.6 -1.4M825.8 203.5L826.9 183.5M826.7 186.5l-2.5 -1.6M84.0 223.5L86.7 203.7M86.7 203.7l-4.7 -3.7M105.5 223.5L103.8 203.6M103.8 203.6l-5.4 -2.6M127.0 223.5L127.6 203.5M127.6 203.5l-5.1 -3.1M148.5 223.5L155.7 204.8M155.7 204.8l-3.8 -4.7M170.0 223.5L175.6 204.3M175.6 204.3l-4.1 -4.3M191.5 223.5L195.9 204.0M195.9 204.0l-4.4 -4.1M213.0 223.5L221.5 205.4M221.5 205.4l-3.4 -4.9M234.5 223.5L243.4 205.6M243.4 205.6l-3.3 -5.0M256.0 223.5L266.8 206.7M266.8 206.7l-2.8 -5.3M277.5 223.5L294.1 212.4M294.1 212.4l-0.4 -6.0M299.0 223.5L316.5 213.8M316.5 213.8l0.1 -6.0M320.5 223.5L338.2 214.3M338.2 214.3l0.3 -6.0M335.6 215.7l0.1 -3.0M342.0 223.5L361.4 218.8M361.4 218.8l1.7 -5.8M358.5 219.5l0.8 -2.9M363.5 223.5L383.2 219.8M383.2 219.8l2.0 -5.7M380.2 220.4l1.0 -2.8M385.0 223.5L404.5 219.2M404.5 219.2l1.8 -5.7M401.6 219.9l0.9 -2.9M406.5 223.5L426.0 218.9M426.0 218.9l1.7 -5.7M423.1 219.6l1.7 -5.7M428.0 223.5L447.9 221.3M447.9 221.3l2.4 -5.5M444.9 221.7l2.4 -5.5M449.5 223.5L469.5 222.6M469.5 222.6l2.8 -5.3M466.5 222.7l2.8 -5.3M463.5 222.9l1.4 -2.7M471.0 223.5L491.0 222.4M491.0 222.4l2.7 -5.3M488.0 222.6l2.7 -5.3M485.0 222.8l1.4 -2.7M492.5 223.5L512.4 221.7M512.4 221.7l2.5 -5.4M509.4 222.0l2.5 -5.4M514.0 223.5L533.9 221.8M533.9 221.8l2.6 -5.4M530.9 222.1l2.6 -5.4M535.5 223.5L555.5 222.9M555.5 222.9l2.8 -5.3M552.5 223.0l2.8 -5.3M549.5 223.1l1.4 -2.6M557.0 223.5L577.0 223.4M577.0 223.4l3.0 -5.2M574.0 223.4l3.0 -5.2M571.0 223.4l1.5 -2.6M578.5 223.5L598.5 223.3M598.5 223.3l2.9 -5.2M595.5 223.3l2.9 -5.2M592.5 223.3l1.5 -2.6M600.0 223.5L620.0 223.0M620.0 223.0l2.9 -5.3M617.0 223.1l2.9 -5.3M621.5 223.5L641.5 223.6M641.5 223.6l3.0 -5.2M638.5 223.5l3.0 -5.2M643.0 223.5L663.0 224.8M663.0 224.8l3.3 -5.0M660.0 224.6l3.3 -5.0M664.5 223.5L684.4 225.3M684.4 225.3l3.5 -4.9M681.4 225.0l3.5 -4.9M686.0 223.5L706.0 224.5M706.0 224.5l3.2 -5.0M703.0 224.3l3.2 -5.0M707.5 223.5L725.4 214.7M725.4 214.7l0.4 -6.0M722.8 216.0l0.2 -3.0M729.0 223.5L734.8 204.4M733.9 207.2l-2.1 -2.2M750.5 223.5L754.0 203.8M753.5 206.8l-2.3 -1.9M772.0 223.5L772.1 203.5M772.1 206.5l-2.6 -1.5M793.5 223.5L790.8 203.7M791.2 206.7l-2.8 -1.1M815.0 223.5L812.6 203.6M812.9 206.6l-2.8 -1.2M836.5 223.5L836.2 203.5M836.2 206.5l-2.6 -1.5M94.8 243.5L91.6 223.8M91.6 223.8l-5.6 -2.1M116.2 243.5L112.8 223.8M112.8 223.8l-5.6 -2.1M137.8 243.5L135.6 223.6M135.6 223.6l-5.5 -2.4M159.2 243.5L156.1 223.8M156.1 223.8l-5.6 -2.1M180.8 243.5L175.7 224.2M175.7 224.2l-5.8 -1.6M202.2 243.5L198.2 223.9M198.2 223.9l-5.7 -1.9M223.8 243.5L226.5 223.7M226.5 223.7l-4.7 -3.7M245.2 243.5L248.8 223.8M248.8 223.8l-4.6 -3.9M266.8 243.5L271.7 224.1M271.7 224.1l-4.3 -4.2M288.2 243.5L302.8 229.8M302.8 229.8l-1.4 -5.8M309.8 243.5L327.1 233.5M327.1 233.5l-0.0 -6.0M331.2 243.5L348.6 233.6M348.6 233.6l0.0 -6.0M346.0 235.1l0.0 -3.0M352.8 243.5L372.2 238.8M372.2 238.8l1.7 -5.8M369.3 239.5l0.9 -2.9M374.2 243.5L393.9 239.9M393.9 239.9l2.0 -5.6M391.0 240.5l1.0 -2.8M395.8 243.5L414.9 237.6M414.9 237.6l1.3 -5.9M412.0 238.5l0.7 -2.9M417.2 243.5L436.6 238.5M436.6 238.5l1.6 -5.8M433.7 239.2l1.6 -5.8M438.8 243.5L458.7 242.3M458.7 242.3l2.7 -5.4M455.7 242.5l2.7 -5.4M452.7 242.6l1.3 -2.7M460.2 243.5L480.2 242.8M480.2 242.8l2.8 -5.3M477.2 242.9l2.8 -5.3M474.2 243.0l1.4 -2.7M481.8 243.5L501.7 241.7M501.7 241.7l2.5 -5.4M498.7 241.9l2.5 -5.4M495.7 242.2l1.3 -2.7M503.2 243.5L523.1 241.1M523.1 241.1l2.4 -5.5M520.1 241.5l2.4 -5.5M517.1 241.8l1.2 -2.8M524.8 243.5L544.7 242.1M544.7 242.1l2.6 -5.4M541.7 242.3l2.6 -5.4M538.7 242.5l1.3 -2.7M546.2 243.5L566.2 243.3M566.2 243.3l3.0 -5.2M563.2 243.3l3.0 -5.2M560.2 243.4l1.5 -2.6M567.8 243.5L587.7 243.5M587.7 243.5l3.0 -5.2M584.7 243.5l3.0 -5.2M581.7 243.5l1.5 -2.6M589.2 243.5L609.2 243.0M609.2 243.0l2.9 -5.3M606.2 243.1l2.9 -5.3M603.2 243.2l1.4 -2.6M610.8 243.5L630.7 242.8M630.7 242.8l2.8 -5.3M627.7 242.9l2.8 -5.3M632.2 243.5L652.2 243.6M652.2 243.6l3.0 -5.2M649.2 243.6l3.0 -5.2M653.8 243.5L673.7 245.0M673.7 245.0l3.4 -5.0M670.7 244.8l3.4 -5.0M675.2 243.5L695.2 245.2M695.2 245.2l3.4 -4.9M692.2 245.0l3.4 -4.9M696.8 243.5L716.6 240.9M716.6 240.9l2.3 -5.5M713.6 241.3l1.1 -2.8M718.2 243.5L727.4 225.7M727.4 225.7l-3.2 -5.0M739.8 243.5L743.3 223.8M742.7 226.8l-2.3 -1.9M761.2 243.5L764.5 223.8M764.0 226.7l-2.3 -1.9M782.8 243.5L780.1 223.7M780.5 226.7l-2.8 -1.1M804.2 243.5L800.8 223.8M801.3 226.8l-2.8 -1.0M825.8 243.5L823.5 223.6M823.8 226.6l-2.8 -1.2M84.0 263.5L81.2 243.7M81.2 243.7l-5.6 -2.3M105.5 263.5L102.6 243.7M102.6 243.7l-5.6 -2.2M127.0 263.5L124.0 243.7M124.0 243.7l-5.6 -2.2M148.5 263.5L144.6 243.9M144.6 243.9l-5.7 -1.9M170.0 263.5L165.2 244.1M165.2 244.1l-5.8 -1.7M191.5 263.5L186.6 244.1M186.6 244.1l-5.8 -1.6M213.0 263.5L210.5 243.7M210.5 243.7l-5.5 -2.3M234.5 263.5L237.3 243.7M237.3 243.7l-4.7 -3.7M256.0 263.5L259.6 243.8M259.6 243.8l-4.6 -3.9M277.5 263.5L283.7 244.5M283.7 244.5l-4.0 -4.5M299.0 263.5L311.9 248.2M311.9 248.2l-2.0 -5.6M309.9 250.5l-1.0 -2.8M320.5 263.5L335.2 250.0M335.2 250.0l-1.3 -5.9M333.0 252.0l-0.7 -2.9M342.0 263.5L357.4 250.8M357.4 250.8l-1.0 -5.9M355.1 252.7l-0.5 -3.0M363.5 263.5L381.5 254.8M381.5 254.8l0.4 -6.0M378.8 256.1l0.2 -3.0M385.0 263.5L402.4 253.6M402.4 253.6l0.0 -6.0M399.8 255.1l0.0 -6.0M406.5 263.5L423.8 253.5M423.8 253.5l-0.0 -6.0M421.2 255.0l-0.0 -6.0M428.0 263.5L447.2 257.9M447.2 257.9l1.4 -5.8M444.3 258.7l1.4 -5.8M441.4 259.5l0.7 -2.9M449.5 263.5L469.3 260.9M469.3 260.9l2.3 -5.5M466.4 261.3l2.3 -5.5M463.4 261.7l1.1 -2.8M471.0 263.5L490.8 260.8M490.8 260.8l2.3 -5.6M487.8 261.2l2.3 -5.6M484.9 261.6l1.1 -2.8M492.5 263.5L512.3 260.4M512.3 260.4l2.2 -5.6M509.3 260.9l2.2 -5.6M506.3 261.3l1.1 -2.8M514.0 263.5L533.9 261.7M533.9 261.7l2.5 -5.4M530.9 261.9l2.5 -5.4M527.9 262.2l1.3 -2.7M535.5 263.5L555.5 262.5M555.5 262.5l2.7 -5.3M552.5 262.6l2.7 -5.3M549.5 262.8l1.4 -2.7M557.0 263.5L577.0 262.9M577.0 262.9l2.9 -5.3M574.0 263.0l2.9 -5.3M571.0 263.1l1.4 -2.6M578.5 263.5L598.5 262.7M598.5 262.7l2.8 -5.3M595.5 262.9l2.8 -5.3M592.5 263.0l1.4 -2.7M600.0 263.5L620.0 262.6M620.0 262.6l2.8 -5.3M617.0 262.8l2.8 -5.3M614.0 262.9l1.4 -2.7M621.5 263.5L641.5 262.9M641.5 262.9l2.8 -5.3M638.5 263.0l2.8 -5.3M643.0 263.5L663.0 263.3M663.0 263.3l3.0 -5.2M660.0 263.4l3.0 -5.2M664.5 263.5L684.5 264.1M684.5 264.1l3.1 -5.1M681.5 264.0l3.1 -5.1M686.0 263.5L705.9 261.7M705.9 261.7l2.5 -5.5M702.9 261.9l1.3 -2.7M707.5 263.5L724.5 253.0M724.5 253.0l-0.2 -6.0M729.0 263.5L740.1 246.9M740.1 246.9l-2.7 -5.4M750.5 263.5L756.2 244.3M755.3 247.2l-2.1 -2.2M772.0 263.5L772.7 243.5M772.6 246.5l-2.5 -1.6M793.5 263.5L790.9 243.7M791.3 246.6l-2.8 -1.1M815.0 263.5L812.6 243.6M813.0 246.6l-2.8 -1.2M836.5 263.5L835.9 243.5M836.0 246.5l-2.6 -1.4M94.8 283.5L92.6 263.6M92.6 263.6l-5.5 -2.4M116.2 283.5L114.3 263.6M114.3 263.6l-5.5 -2.5M137.8 283.5L133.7 263.9M133.7 263.9l-5.7 -1.9M159.2 283.5L154.0 264.2M154.0 264.2l-5.8 -1.5M180.8 283.5L177.0 263.8M177.0 263.8l-5.7 -2.0M202.2 283.5L197.9 264.0M197.9 264.0l-5.7 -1.8M223.8 283.5L219.8 263.9M219.8 263.9l-5.7 -1.9M245.2 283.5L246.7 263.5M246.7 263.5l-5.0 -3.4M266.8 283.5L271.6 264.1M271.6 264.1l-4.3 -4.2M288.2 283.5L293.4 264.2M293.4 264.2l-4.2 -4.2M309.8 283.5L319.1 265.8M319.1 265.8l-3.2 -5.1M317.7 268.5l-1.6 -2.5M331.2 283.5L341.3 266.2M341.3 266.2l-3.0 -5.2M339.8 268.8l-1.5 -2.6M352.8 283.5L365.0 267.7M365.0 267.7l-2.3 -5.6M363.2 270.1l-2.3 -5.6M374.2 283.5L388.3 269.3M388.3 269.3l-1.6 -5.8M386.2 271.4l-1.6 -5.8M384.1 273.6l-0.8 -2.9M395.8 283.5L409.9 269.3M409.9 269.3l-1.6 -5.8M407.8 271.5l-1.6 -5.8M405.6 273.6l-0.8 -2.9M417.2 283.5L433.8 272.2M433.8 272.2l-0.4 -6.0M431.3 273.9l-0.4 -6.0M428.8 275.6l-0.2 -3.0M438.8 283.5L458.3 279.3M458.3 279.3l1.8 -5.7M455.4 279.9l1.8 -5.7M452.4 280.6l1.8 -5.7M460.2 283.5L480.0 280.5M480.0 280.5l2.2 -5.6M477.1 280.9l2.2 -5.6M474.1 281.4l2.2 -5.6M481.8 283.5L501.4 279.7M501.4 279.7l2.0 -5.7M498.4 280.3l2.0 -5.7M495.5 280.8l1.0 -2.8M503.2 283.5L523.2 281.5M523.2 281.5l2.5 -5.5M520.2 281.8l2.5 -5.5M517.2 282.1l1.2 -2.7M524.8 283.5L544.7 283.3M544.7 283.3l3.0 -5.2M541.7 283.4l3.0 -5.2M538.7 283.4l3.0 -5.2M546.2 283.5L566.2 282.9M566.2 282.9l2.9 -5.3M563.2 283.0l2.9 -5.3M560.2 283.1l2.9 -5.3M567.8 283.5L587.7 282.1M587.7 282.1l2.6 -5.4M584.7 282.3l2.6 -5.4M581.7 282.5l1.3 -2.7M589.2 283.5L609.2 282.5M609.2 282.5l2.7 -5.3M606.2 282.6l2.7 -5.3M603.2 282.8l1.4 -2.7M610.8 283.5L630.7 283.4M630.7 283.4l3.0 -5.2M627.7 283.4l3.0 -5.2M624.7 283.4l1.5 -2.6M632.2 283.5L652.2 283.2M652.2 283.2l2.9 -5.2M649.2 283.2l2.9 -5.2M646.2 283.3l1.5 -2.6M653.8 283.5L673.7 282.4M673.7 282.4l2.7 -5.4M670.7 282.6l2.7 -5.4M675.2 283.5L695.0 280.4M695.0 280.4l2.2 -5.6M692.0 280.9l1.1 -2.8M696.8 283.5L714.9 275.0M714.9 275.0l0.5 -6.0M718.2 283.5L735.5 273.4M735.5 273.4l-0.0 -6.0M739.8 283.5L756.1 271.9M756.1 271.9l-0.6 -6.0M761.2 283.5L764.6 263.8M764.1 266.7l-2.3 -1.9M782.8 283.5L777.9 264.1M778.7 267.0l-2.9 -0.8M804.2 283.5L800.1 263.9M800.8 266.9l-2.9 -0.9M825.8 283.5L824.5 263.5M824.7 266.5l-2.7 -1.3M84.0 303.5L79.5 284.0M79.5 284.0l-5.7 -1.8M105.5 303.5L103.5 283.6M103.5 283.6l-5.5 -2.5M127.0 303.5L123.6 283.8M123.6 283.8l-5.6 -2.1M148.5 303.5L137.5 286.8M137.5 286.8l-6.0 0.3M170.0 303.5L164.5 284.3M164.5 284.3l-5.8 -1.5M191.5 303.5L187.4 283.9M187.4 283.9l-5.7 -1.9M213.0 303.5L201.1 287.5M201.1 287.5l-6.0 0.7M234.5 303.5L224.1 286.4M224.1 286.4l-6.0 0.1M256.0 303.5L256.4 283.5M256.4 283.5l-5.1 -3.1M277.5 303.5L281.8 284.0M281.8 284.0l-4.4 -4.0M299.0 303.5L302.4 283.8M302.4 283.8l-4.6 -3.8M301.9 286.7l-2.3 -1.9M320.5 303.5L330.0 285.9M330.0 285.9l-3.1 -5.1M328.6 288.5l-1.6 -2.6M342.0 303.5L351.0 285.7M351.0 285.7l-3.3 -5.0M349.7 288.3l-1.6 -2.5M363.5 303.5L375.9 287.8M375.9 287.8l-2.2 -5.6M374.1 290.2l-2.2 -5.6M372.2 292.5l-1.1 -2.8M385.0 303.5L398.7 288.9M398.7 288.9l-1.7 -5.7M396.7 291.1l-1.7 -5.7M394.6 293.3l-0.9 -2.9M406.5 303.5L418.4 287.4M418.4 287.4l-2.4 -5.5M416.6 289.8l-2.4 -5.5M428.0 303.5L445.4 293.7M445.4 293.7l0.1 -6.0M442.8 295.2l0.1 -6.0M440.2 296.6l0.0 -3.0M449.5 303.5L469.2 300.3M469.2 300.3l2.1 -5.6M466.3 300.8l2.1 -5.6M463.3 301.3l2.1 -5.6M471.0 303.5L490.6 299.7M490.6 299.7l1.9 -5.7M487.7 300.2l1.9 -5.7M484.7 300.8l1.0 -2.8M492.5 303.5L512.3 300.5M512.3 300.5l2.2 -5.6M509.3 301.0l2.2 -5.6M506.3 301.4l1.1 -2.8M514.0 303.5L534.0 302.7M534.0 302.7l2.8 -5.3M531.0 302.8l2.8 -5.3M528.0 302.9l1.4 -2.7M535.5 303.5L555.5 303.3M555.5 303.3l2.9 -5.2M552.5 303.3l2.9 -5.2M549.5 303.4l2.9 -5.2M557.0 303.5L577.0 302.5M577.0 302.5l2.7 -5.3M574.0 302.7l2.7 -5.3M571.0 302.8l1.4 -2.7M578.5 303.5L598.4 301.9M598.4 301.9l2.6 -5.4M595.4 302.2l2.6 -5.4M600.0 303.5L620.0 302.9M620.0 302.9l2.9 -5.3M617.0 303.0l2.9 -5.3M614.0 303.1l1.4 -2.6M621.5 303.5L641.5 303.4M641.5 303.4l3.0 -5.2M638.5 303.4l3.0 -5.2M635.5 303.4l1.5 -2.6M643.0 303.5L663.0 302.9M663.0 302.9l2.8 -5.3M660.0 303.0l2.8 -5.3M664.5 303.5L684.5 303.3M684.5 303.3l2.9 -5.2M681.5 303.3l1.5 -2.6M686.0 303.5L705.6 299.7M705.6 299.7l2.0 -5.7M702.7 300.3l1.0 -2.8M707.5 303.5L725.1 294.0M725.1 294.0l0.2 -6.0M729.0 303.5L746.3 293.5M746.3 293.5l0.0 -6.0M750.5 303.5L766.4 291.4M766.4 291.4l-0.8 -6.0M772.0 303.5L769.8 283.6M770.1 286.6l-2.7 -1.2M793.5 303.5L788.7 284.1M789.4 287.0l-2.9 -0.8M815.0 303.5L813.3 283.6M813.5 286.6l-2.7 -1.3M836.5 303.5L839.9 283.8M839.9 283.8l-4.6 -3.8M94.8 323.5L76.8 332.2M76.8 332.2l-0.4 6.0M116.2 323.5L99.1 333.9M99.1 333.9l0.1 6.0M137.8 323.5L119.0 330.5M119.0 330.5l-1.0 5.9M159.2 323.5L141.0 331.7M141.0 331.7l-0.6 6.0M180.8 323.5L161.2 319.3M161.2 319.3l-4.0 4.5M202.2 323.5L182.6 319.9M182.6 319.9l-3.9 4.6M223.8 323.5L203.8 321.6M203.8 321.6l-3.5 4.9M245.2 323.5L231.6 308.8M231.6 308.8l-5.8 1.3M266.8 323.5L254.4 307.7M254.4 307.7l-5.9 0.8M288.2 323.5L282.7 304.3M282.7 304.3l-5.8 -1.4M283.5 307.2l-2.9 -0.7M309.8 323.5L306.0 303.9M306.0 303.9l-5.7 -2.0M306.5 306.8l-2.8 -1.0M331.2 323.5L335.6 304.0M335.6 304.0l-4.4 -4.1M334.9 306.9l-4.4 -4.1M352.8 323.5L359.2 304.6M359.2 304.6l-3.9 -4.5M358.2 307.4l-3.9 -4.5M374.2 323.5L382.5 305.3M382.5 305.3l-3.5 -4.9M381.3 308.0l-3.5 -4.9M395.8 323.5L405.7 306.2M405.7 306.2l-3.0 -5.2M404.2 308.8l-3.0 -5.2M417.2 323.5L427.4 306.2M427.4 306.2l-3.0 -5.2M425.8 308.8l-3.0 -5.2M438.8 323.5L457.8 317.3M457.8 317.3l1.3 -5.9M454.9 318.3l1.3 -5.9M452.1 319.2l0.6 -2.9M460.2 323.5L479.9 319.9M479.9 319.9l2.0 -5.7M477.0 320.4l2.0 -5.7M474.0 321.0l1.0 -2.8M481.8 323.5L501.2 318.9M501.2 318.9l1.7 -5.7M498.3 319.6l1.7 -5.7M495.4 320.3l0.9 -2.9M503.2 323.5L523.2 322.8M523.2 322.8l2.8 -5.3M520.2 322.9l2.8 -5.3M524.8 323.5L544.7 322.1M544.7 322.1l2.6 -5.4M541.7 322.3l2.6 -5.4M546.2 323.5L566.2 322.7M566.2 322.7l2.8 -5.3M563.2 322.8l2.8 -5.3M567.8 323.5L587.7 323.4M587.7 323.4l3.0 -5.2M584.7 323.4l3.0 -5.2M589.2 323.5L608.9 319.9M608.9 319.9l2.0 -5.7M606.0 320.4l2.0 -5.7M610.8 323.5L630.4 319.9M630.4 319.9l2.0 -5.6M627.5 320.5l2.0 -5.6M632.2 323.5L652.2 321.6M652.2 321.6l2.5 -5.5M649.2 321.8l2.5 -5.5M653.8 323.5L673.6 325.8M673.6 325.8l3.6 -4.8M670.6 325.5l1.8 -2.4M675.2 323.5L695.0 326.5M695.0 326.5l3.8 -4.7M692.1 326.1l1.9 -2.3M696.8 323.5L716.7 322.2M716.7 322.2l2.7 -5.4M713.7 322.4l1.3 -2.7M718.2 323.5L736.9 316.3M736.9 316.3l0.9 -5.9M739.8 323.5L759.4 319.9M759.4 319.9l2.0 -5.7M761.2 323.5L776.7 336.2M776.7 336.2l5.6 -2.1M782.8 323.5L796.8 337.8M796.8 337.8l5.8 -1.5M804.2 323.5L824.2 323.8M824.2 323.8l3.1 -5.2M825.8 323.5L841.6 311.3M841.6 311.3l-0.8 -5.9M84.0 343.5L73.8 360.7M73.8 360.7l2.9 5.2M105.5 343.5L97.0 361.6M97.0 361.6l3.4 4.9M127.0 343.5L117.2 360.9M117.2 360.9l3.1 5.2M148.5 343.5L134.0 357.3M134.0 357.3l1.4 5.8M170.0 343.5L155.7 357.5M155.7 357.5l1.5 5.8M191.5 343.5L172.2 348.9M172.2 348.9l-1.5 5.8M213.0 343.5L193.0 343.6M193.0 343.6l-3.0 5.2M234.5 343.5L214.9 339.6M214.9 339.6l-3.9 4.5M256.0 343.5L242.8 328.5M242.8 328.5l-5.9 1.2M277.5 343.5L265.9 327.2M265.9 327.2l-6.0 0.6M267.7 329.6l-3.0 0.3M299.0 343.5L293.7 324.2M293.7 324.2l-5.8 -1.5M294.5 327.1l-2.9 -0.8M320.5 343.5L316.7 323.9M316.7 323.9l-5.7 -2.0M317.3 326.8l-2.8 -1.0M342.0 343.5L348.4 324.6M348.4 324.6l-4.0 -4.5M347.5 327.4l-4.0 -4.5M363.5 343.5L367.0 323.8M367.0 323.8l-4.6 -3.9M366.5 326.8l-4.6 -3.9M385.0 343.5L389.1 323.9M389.1 323.9l-4.5 -4.0M388.5 326.9l-4.5 -4.0M406.5 343.5L411.7 324.2M411.7 324.2l-4.2 -4.2M410.9 327.1l-4.2 -4.2M428.0 343.5L427.9 323.5M427.9 323.5l-5.2 -3.0M427.9 326.5l-5.2 -3.0M449.5 343.5L466.1 332.4M466.1 332.4l-0.4 -6.0M463.6 334.1l-0.4 -6.0M461.1 335.7l-0.2 -3.0M471.0 343.5L481.7 326.6M481.7 326.6l-2.8 -5.3M480.1 329.2l-2.8 -5.3M478.5 331.7l-1.4 -2.7M492.5 343.5L511.2 336.4M511.2 336.4l1.0 -5.9M508.4 337.4l1.0 -5.9M514.0 343.5L533.7 340.1M533.7 340.1l2.1 -5.6M530.8 340.6l2.1 -5.6M535.5 343.5L553.2 334.2M553.2 334.2l0.2 -6.0M550.5 335.6l0.2 -6.0M557.0 343.5L576.5 339.1M576.5 339.1l1.8 -5.7M573.6 339.8l1.8 -5.7M578.5 343.5L590.7 327.7M590.7 327.7l-2.3 -5.5M588.9 330.0l-1.1 -2.8M600.0 343.5L601.0 323.5M601.0 323.5l-5.0 -3.3M600.8 326.5l-2.5 -1.6M621.5 343.5L626.9 324.2M626.9 324.2l-4.2 -4.3M626.1 327.1l-2.1 -2.1M643.0 343.5L663.0 342.6M663.0 342.6l2.8 -5.3M660.0 342.7l1.4 -2.7M664.5 343.5L684.2 346.9M684.2 346.9l3.8 -4.6M681.3 346.4l1.9 -2.3M686.0 343.5L705.8 346.5M705.8 346.5l3.7 -4.7M702.8 346.0l1.9 -2.3M707.5 343.5L727.5 344.1M727.5 344.1l3.2 -5.1M724.5 344.0l1.6 -2.5M729.0 343.5L748.8 346.1M748.8 346.1l3.7 -4.8M750.5 343.5L766.1 356.0M766.1 356.0l5.6 -2.2M772.0 343.5L784.9 358.8M784.9 358.8l5.9 -1.1M793.5 343.5L806.9 358.3M806.9 358.3l5.9 -1.3M815.0 343.5L831.3 355.1M831.3 355.1l5.5 -2.5M836.5 343.5L855.2 350.6M855.2 350.6l4.6 -3.8M94.8 363.5L85.7 381.3M85.7 381.3l3.3 5.0M116.2 363.5L107.2 381.4M107.2 381.4l3.3 5.0M137.8 363.5L124.8 378.7M124.8 378.7l2.0 5.7M159.2 363.5L144.5 377.0M144.5 377.0l1.3 5.9M180.8 363.5L163.7 373.9M163.7 373.9l0.2 6.0M202.2 363.5L184.0 371.8M184.0 371.8l-0.6 6.0M223.8 363.5L204.3 368.2M204.3 368.2l-1.7 5.8M245.2 363.5L227.9 353.5M227.9 353.5l-5.2 3.0M230.5 355.0l-2.6 1.5M266.8 363.5L251.5 350.6M251.5 350.6l-5.6 2.0M253.7 352.5l-2.8 1.0M288.2 363.5L275.0 348.5M275.0 348.5l-5.9 1.2M277.0 350.8l-2.9 0.6M309.8 363.5L301.3 345.4M301.3 345.4l-6.0 -0.5M302.6 348.1l-3.0 -0.3M331.2 363.5L325.0 344.5M325.0 344.5l-5.9 -1.2M325.9 347.3l-2.9 -0.6M352.8 363.5L351.5 343.5M351.5 343.5l-5.4 -2.7M351.7 346.5l-5.4 -2.7M374.2 363.5L374.1 343.5M374.1 343.5l-5.2 -2.9M374.1 346.5l-5.2 -2.9M395.8 363.5L392.1 343.8M392.1 343.8l-5.7 -2.0M392.6 346.8l-5.7 -2.0M417.2 363.5L410.4 344.7M410.4 344.7l-5.9 -1.0M411.4 347.5l-5.9 -1.0M438.8 363.5L429.9 345.5M429.9 345.5l-6.0 -0.4M431.3 348.2l-6.0 -0.4M460.2 363.5L441.0 357.9M441.0 357.9l-4.3 4.1M443.9 358.7l-4.3 4.1M481.8 363.5L463.2 355.9M463.2 355.9l-4.7 3.7M466.0 357.1l-4.7 3.7M503.2 363.5L484.2 357.3M484.2 357.3l-4.5 4.0M487.1 358.2l-2.2 2.0M524.8 363.5L505.2 359.2M505.2 359.2l-4.0 4.4M508.1 359.9l-2.0 2.2M546.2 363.5L531.5 350.0M531.5 350.0l-5.7 1.8M533.7 352.0l-2.9 0.9M567.8 363.5L553.7 349.3M553.7 349.3l-5.8 1.5M589.2 363.5L576.0 348.5M576.0 348.5l-5.9 1.2M610.8 363.5L598.4 347.8M598.4 347.8l-5.9 0.9M632.2 363.5L621.6 346.6M621.6 346.6l-6.0 0.2M653.8 363.5L673.2 358.7M673.2 358.7l1.7 -5.8M670.3 359.4l0.8 -2.9M675.2 363.5L695.1 365.7M695.1 365.7l3.5 -4.8M692.2 365.3l1.8 -2.4M696.8 363.5L716.4 367.4M716.4 367.4l4.0 -4.5M713.4 366.8l2.0 -2.3M718.2 363.5L736.9 370.8M736.9 370.8l4.7 -3.7M739.8 363.5L757.0 373.6M757.0 373.6l5.2 -3.0M761.2 363.5L775.8 377.2M775.8 377.2l5.7 -1.7M782.8 363.5L796.4 378.1M796.4 378.1l5.8 -1.4M804.2 363.5L818.1 377.9M818.1 377.9l5.8 -1.4M825.8 363.5L840.2 377.3M840.2 377.3l5.8 -1.7M84.0 383.5L75.5 401.6M75.5 401.6l3.4 4.9M105.5 383.5L97.9 402.0M97.9 402.0l3.7 4.7M127.0 383.5L117.8 401.3M117.8 401.3l3.2 5.0M148.5 383.5L133.8 397.0M133.8 397.0l1.3 5.9M170.0 383.5L152.8 393.6M152.8 393.6l0.1 6.0M191.5 383.5L173.6 392.4M173.6 392.4l-0.4 6.0M213.0 383.5L194.5 391.0M194.5 391.0l-0.8 5.9M234.5 383.5L214.7 380.8M214.7 380.8l-3.7 4.7M217.7 381.2l-1.8 2.4M256.0 383.5L239.2 372.6M239.2 372.6l-5.3 2.7M241.8 374.2l-2.7 1.4M277.5 383.5L260.6 372.8M260.6 372.8l-5.3 2.8M263.2 374.4l-2.7 1.4M299.0 383.5L287.2 367.3M287.2 367.3l-6.0 0.6M289.0 369.8l-3.0 0.3M320.5 383.5L311.8 365.5M311.8 365.5l-6.0 -0.4M313.1 368.2l-3.0 -0.2M342.0 383.5L333.9 365.2M333.9 365.2l-6.0 -0.6M335.1 368.0l-6.0 -0.6M363.5 383.5L353.6 366.1M353.6 366.1l-6.0 -0.0M355.1 368.7l-6.0 -0.0M356.6 371.3l-3.0 -0.0M385.0 383.5L376.4 365.4M376.4 365.4l-6.0 -0.5M377.7 368.2l-6.0 -0.5M379.0 370.9l-3.0 -0.2M406.5 383.5L398.2 365.3M398.2 365.3l-6.0 -0.6M399.5 368.0l-6.0 -0.6M428.0 383.5L418.0 366.2M418.0 366.2l-6.0 -0.0M419.5 368.8l-6.0 -0.0M421.0 371.4l-3.0 -0.0M449.5 383.5L435.8 368.9M435.8 368.9l-5.8 1.4M437.9 371.1l-5.8 1.4M439.9 373.3l-2.9 0.7M471.0 383.5L452.4 376.2M452.4 376.2l-4.7 3.8M455.2 377.3l-4.7 3.8M492.5 383.5L474.2 375.5M474.2 375.5l-4.8 3.6M476.9 376.7l-4.8 3.6M514.0 383.5L494.4 379.6M494.4 379.6l-4.0 4.5M497.3 380.2l-2.0 2.3M535.5 383.5L516.6 377.0M516.6 377.0l-4.5 3.9M519.4 378.0l-2.3 2.0M557.0 383.5L542.3 370.0M542.3 370.0l-5.7 1.8M544.5 372.0l-2.9 0.9M578.5 383.5L564.5 369.2M564.5 369.2l-5.8 1.5M600.0 383.5L587.1 368.2M587.1 368.2l-5.9 1.1M621.5 383.5L608.6 368.2M608.6 368.2l-5.9 1.0M643.0 383.5L630.9 367.5M630.9 367.5l-6.0 0.7M632.7 369.9l-3.0 0.4M664.5 383.5L673.7 365.8M673.7 365.8l-3.2 -5.1M672.4 368.4l-1.6 -2.5M686.0 383.5L704.8 390.4M704.8 390.4l4.6 -3.8M702.0 389.4l2.3 -1.9M707.5 383.5L724.9 393.4M724.9 393.4l5.2 -3.0M729.0 383.5L746.2 393.7M746.2 393.7l5.2 -3.0M750.5 383.5L766.6 395.3M766.6 395.3l5.5 -2.4M772.0 383.5L785.5 398.2M785.5 398.2l5.9 -1.3M793.5 383.5L806.4 398.8M806.4 398.8l5.9 -1.1M815.0 383.5L827.9 398.8M827.9 398.8l5.9 -1.1M836.5 383.5L849.6 398.6M849.6 398.6l5.9 -1.1M94.8 403.5L87.7 422.2M87.7 422.2l3.8 4.6M116.2 403.5L109.4 422.3M109.4 422.3l3.8 4.6M137.8 403.5L127.5 420.7M127.5 420.7l2.9 5.2M159.2 403.5L142.6 414.6M142.6 414.6l0.4 6.0M180.8 403.5L163.4 413.5M163.4 413.5l-0.0 6.0M202.2 403.5L184.5 412.7M184.5 412.7l-0.3 6.0M223.8 403.5L203.9 405.9M203.9 405.9l-2.4 5.5M206.9 405.5l-1.2 2.8M245.2 403.5L227.0 395.4M227.0 395.4l-4.9 3.5M229.7 396.6l-2.4 1.8M266.8 403.5L249.5 393.3M249.5 393.3l-5.2 2.9M252.1 394.8l-2.6 1.5M288.2 403.5L271.9 392.0M271.9 392.0l-5.4 2.5M274.4 393.7l-2.7 1.3M309.8 403.5L297.0 388.1M297.0 388.1l-5.9 1.0M298.9 390.4l-5.9 1.0M331.2 403.5L319.4 387.4M319.4 387.4l-6.0 0.7M321.2 389.8l-6.0 0.7M352.8 403.5L338.1 389.9M338.1 389.9l-5.7 1.8M340.3 392.0l-5.7 1.8M342.5 394.0l-2.9 0.9M374.2 403.5L358.0 391.8M358.0 391.8l-5.5 2.5M360.4 393.6l-5.5 2.5M362.9 395.3l-2.7 1.2M395.8 403.5L383.4 387.8M383.4 387.8l-5.9 0.9M385.2 390.2l-5.9 0.9M387.1 392.5l-3.0 0.4M417.2 403.5L406.1 386.9M406.1 386.9l-6.0 0.4M407.7 389.4l-6.0 0.4M409.4 391.9l-3.0 0.2M438.8 403.5L424.4 389.6M424.4 389.6l-5.8 1.6M426.6 391.6l-5.8 1.6M428.7 393.7l-2.9 0.8M460.2 403.5L443.1 393.2M443.1 393.2l-5.3 2.9M445.7 394.7l-5.3 2.9M448.3 396.3l-2.6 1.4M481.8 403.5L464.8 392.9M464.8 392.9l-5.3 2.8M467.4 394.5l-5.3 2.8M503.2 403.5L485.5 394.2M485.5 394.2l-5.1 3.2M488.2 395.6l-5.1 3.2M524.8 403.5L507.4 393.6M507.4 393.6l-5.2 3.0M510.0 395.1l-5.2 3.0M546.2 403.5L529.1 393.3M529.1 393.3l-5.2 2.9M531.6 394.8l-5.2 2.9M567.8 403.5L552.3 390.8M552.3 390.8l-5.6 2.1M554.6 392.7l-2.8 1.1M589.2 403.5L574.9 389.6M574.9 389.6l-5.8 1.7M577.0 391.7l-2.9 0.8M610.8 403.5L596.8 389.2M596.8 389.2l-5.8 1.5M632.2 403.5L616.8 390.8M616.8 390.8l-5.6 2.1M619.1 392.7l-2.8 1.0M653.8 403.5L635.8 394.6M635.8 394.6l-5.0 3.3M638.5 396.0l-2.5 1.7M675.2 403.5L655.3 404.9M655.3 404.9l-2.6 5.4M658.3 404.7l-1.3 2.7M696.8 403.5L712.2 416.2M712.2 416.2l5.6 -2.1M718.2 403.5L735.6 413.5M735.6 413.5l5.2 -3.0M739.8 403.5L756.8 414.0M756.8 414.0l5.3 -2.8M761.2 403.5L774.7 418.3M774.7 418.3l5.9 -1.3M782.8 403.5L795.5 418.9M795.5 418.9l5.9 -1.0M804.2 403.5L817.1 418.8M817.1 418.8l5.9 -1.0M825.8 403.5L838.2 419.2M838.2 419.2l5.9 -0.9M84.0 423.5L77.0 442.2M77.0 442.2l3.8 4.6M105.5 423.5L98.6 442.3M98.6 442.3l3.8 4.6M127.0 423.5L118.9 441.8M118.9 441.8l3.5 4.9M148.5 423.5L134.9 438.2M134.9 438.2l1.8 5.7M136.9 436.0l0.9 2.9M170.0 423.5L153.1 434.2M153.1 434.2l0.2 6.0M191.5 423.5L174.0 433.1M174.0 433.1l-0.1 6.0M213.0 423.5L194.0 429.9M194.0 429.9l-1.2 5.9M196.9 428.9l-0.6 2.9M234.5 423.5L214.6 421.5M214.6 421.5l-3.5 4.9M217.6 421.8l-1.8 2.4M256.0 423.5L237.5 415.8M237.5 415.8l-4.8 3.6M240.3 416.9l-4.8 3.6M277.5 423.5L260.0 413.9M260.0 413.9l-5.1 3.1M262.6 415.3l-5.1 3.1M299.0 423.5L282.7 412.0M282.7 412.0l-5.4 2.5M285.1 413.7l-5.4 2.5M320.5 423.5L305.3 410.5M305.3 410.5l-5.7 2.0M307.6 412.4l-5.7 2.0M309.9 414.4l-2.8 1.0M342.0 423.5L326.4 411.0M326.4 411.0l-5.6 2.2M328.7 412.9l-5.6 2.2M331.1 414.7l-2.8 1.1M363.5 423.5L346.5 413.0M346.5 413.0l-5.3 2.8M349.0 414.6l-5.3 2.8M351.6 416.1l-2.6 1.4M385.0 423.5L368.9 411.6M368.9 411.6l-5.5 2.4M371.3 413.4l-5.5 2.4M373.7 415.2l-2.7 1.2M406.5 423.5L392.7 409.1M392.7 409.1l-5.8 1.4M394.7 411.2l-5.8 1.4M396.8 413.4l-2.9 0.7M428.0 423.5L412.9 410.4M412.9 410.4l-5.7 2.0M415.1 412.4l-5.7 2.0M417.4 414.3l-2.8 1.0M449.5 423.5L432.4 413.2M432.4 413.2l-5.3 2.9M434.9 414.7l-5.3 2.9M437.5 416.3l-2.6 1.4M471.0 423.5L454.0 412.9M454.0 412.9l-5.3 2.8M456.6 414.5l-5.3 2.8M459.1 416.1l-2.6 1.4M492.5 423.5L475.6 412.8M475.6 412.8l-5.3 2.8M478.2 414.4l-5.3 2.8M514.0 423.5L496.7 413.4M496.7 413.4l-5.2 3.0M499.3 414.9l-5.2 3.0M535.5 423.5L518.2 413.5M518.2 413.5l-5.2 3.0M520.8 415.0l-5.2 3.0M557.0 423.5L539.9 413.1M539.9 413.1l-5.3 2.9M542.5 414.7l-5.3 2.9M578.5 423.5L561.7 412.7M561.7 412.7l-5.3 2.7M564.2 414.3l-5.3 2.7M600.0 423.5L582.3 414.1M582.3 414.1l-5.1 3.2M585.0 415.5l-2.5 1.6M621.5 423.5L601.9 419.6M601.9 419.6l-4.0 4.5M604.8 420.2l-4.0 4.5M643.0 423.5L623.1 421.9M623.1 421.9l-3.4 4.9M626.1 422.2l-3.4 4.9M664.5 423.5L644.6 421.7M644.6 421.7l-3.5 4.9M647.6 422.0l-1.7 2.5M686.0 423.5L666.0 424.7M666.0 424.7l-2.7 5.4M669.0 424.5l-1.3 2.7M707.5 423.5L689.3 431.7M689.3 431.7l-0.6 6.0M692.0 430.5l-0.3 3.0M729.0 423.5L743.3 437.5M743.3 437.5l5.8 -1.6M750.5 423.5L759.7 441.3M759.7 441.3l6.0 0.3M758.3 438.6l3.0 0.1M772.0 423.5L777.9 442.6M777.9 442.6l5.8 1.3M777.0 439.7l2.9 0.7M793.5 423.5L804.5 440.2M804.5 440.2l6.0 -0.4M815.0 423.5L826.1 440.1M826.1 440.1l6.0 -0.4M836.5 423.5L846.1 441.0M846.1 441.0l6.0 0.1M844.7 438.4l3.0 0.1M94.8 443.5L92.1 463.3M92.1 463.3l4.7 3.7M92.5 460.3l2.4 1.8M116.2 443.5L113.8 463.3M113.8 463.3l4.8 3.6M114.1 460.4l2.4 1.8M137.8 443.5L129.9 461.9M129.9 461.9l3.6 4.8M131.0 459.1l1.8 2.4M159.2 443.5L144.7 457.2M144.7 457.2l1.4 5.8M146.9 455.2l0.7 2.9M180.8 443.5L164.9 455.7M164.9 455.7l0.8 5.9M167.3 453.9l0.4 3.0M202.2 443.5L185.3 454.1M185.3 454.1l0.2 6.0M187.9 452.5l0.1 3.0M223.8 443.5L204.2 447.6M204.2 447.6l-1.9 5.7M207.1 447.0l-1.9 5.7M245.2 443.5L225.5 440.1M225.5 440.1l-3.8 4.6M228.5 440.6l-3.8 4.6M266.8 443.5L247.5 438.0M247.5 438.0l-4.3 4.2M250.4 438.8l-4.3 4.2M253.3 439.7l-2.2 2.1M288.2 443.5L269.4 436.8M269.4 436.8l-4.6 3.9M272.2 437.8l-4.6 3.9M275.1 438.8l-2.3 1.9M309.8 443.5L291.9 434.4M291.9 434.4l-5.0 3.3M294.6 435.8l-5.0 3.3M297.3 437.2l-2.5 1.6M331.2 443.5L313.6 434.1M313.6 434.1l-5.1 3.2M316.3 435.5l-5.1 3.2M318.9 436.9l-5.1 3.2M352.8 443.5L335.1 434.0M335.1 434.0l-5.1 3.2M337.8 435.4l-5.1 3.2M340.4 436.9l-5.1 3.2M374.2 443.5L357.6 432.5M357.6 432.5l-5.4 2.7M360.1 434.1l-5.4 2.7M362.6 435.8l-2.7 1.3M395.8 443.5L380.1 431.0M380.1 431.0l-5.6 2.2M382.4 432.9l-5.6 2.2M384.8 434.8l-2.8 1.1M417.2 443.5L401.5 431.2M401.5 431.2l-5.6 2.2M403.9 433.0l-5.6 2.2M406.2 434.9l-2.8 1.1M438.8 443.5L421.8 433.0M421.8 433.0l-5.3 2.8M424.3 434.5l-5.3 2.8M426.9 436.1l-2.6 1.4M460.2 443.5L442.9 433.6M442.9 433.6l-5.2 3.0M445.5 435.1l-5.2 3.0M448.1 436.6l-5.2 3.0M481.8 443.5L464.7 433.0M464.7 433.0l-5.3 2.9M467.3 434.6l-5.3 2.9M469.8 436.2l-2.6 1.4M503.2 443.5L486.3 433.0M486.3 433.0l-5.3 2.8M488.8 434.5l-5.3 2.8M491.4 436.1l-2.6 1.4M524.8 443.5L507.5 433.4M507.5 433.4l-5.2 3.0M510.1 434.9l-5.2 3.0M546.2 443.5L528.6 434.2M528.6 434.2l-5.1 3.2M531.2 435.6l-5.1 3.2M567.8 443.5L549.8 434.6M549.8 434.6l-5.0 3.3M552.5 436.0l-5.0 3.3M589.2 443.5L571.0 435.3M571.0 435.3l-4.9 3.5M573.7 436.5l-4.9 3.5M610.8 443.5L590.9 440.7M590.9 440.7l-3.7 4.7M593.9 441.1l-3.7 4.7M632.2 443.5L612.3 443.5M612.3 443.5l-3.0 5.2M615.3 443.5l-3.0 5.2M653.8 443.5L633.8 442.9M633.8 442.9l-3.2 5.1M636.8 443.0l-3.2 5.1M675.2 443.5L655.3 442.3M655.3 442.3l-3.3 5.0M658.3 442.4l-1.7 2.5M696.8 443.5L676.8 443.5M676.8 443.5l-3.0 5.2M679.8 443.5l-1.5 2.6M718.2 443.5L698.3 444.3M698.3 444.3l-2.8 5.3M701.3 444.1l-1.4 2.7M739.8 443.5L723.8 455.5M723.8 455.5l0.7 6.0M726.2 453.7l0.4 3.0M761.2 443.5L747.7 458.2M747.7 458.2l1.8 5.7M749.7 456.0l1.8 5.7M782.8 443.5L769.4 458.4M769.4 458.4l1.9 5.7M771.4 456.2l1.9 5.7M804.2 443.5L797.5 462.3M797.5 462.3l3.9 4.6M798.5 459.5l1.9 2.3M825.8 443.5L825.6 463.5M825.6 463.5l5.2 3.0M825.6 460.5l2.6 1.5M84.0 463.5L82.5 483.4M82.5 483.4l5.0 3.4M82.7 480.5l2.5 1.7M105.5 463.5L105.5 483.5M105.5 483.5l5.2 3.0M105.5 480.5l2.6 1.5M127.0 463.5L126.0 483.5M126.0 483.5l5.0 3.3M126.1 480.5l2.5 1.6M148.5 463.5L137.8 480.4M137.8 480.4l2.8 5.3M139.4 477.9l1.4 2.7M170.0 463.5L154.8 476.5M154.8 476.5l1.1 5.9M157.1 474.5l0.5 3.0M191.5 463.5L176.2 476.3M176.2 476.3l1.0 5.9M178.5 474.4l0.5 3.0M213.0 463.5L195.8 473.7M195.8 473.7l0.1 6.0M198.4 472.2l0.1 6.0M234.5 463.5L214.5 464.1M214.5 464.1l-2.8 5.3M217.5 464.0l-2.8 5.3M220.5 463.9l-1.4 2.6M256.0 463.5L236.6 458.7M236.6 458.7l-4.1 4.3M239.5 459.5l-4.1 4.3M242.4 460.2l-2.1 2.2M277.5 463.5L258.2 458.3M258.2 458.3l-4.2 4.2M261.1 459.1l-4.2 4.2M264.0 459.9l-2.1 2.1M299.0 463.5L279.9 457.6M279.9 457.6l-4.4 4.1M282.8 458.5l-4.4 4.1M285.6 459.4l-4.4 4.1M320.5 463.5L302.1 455.7M302.1 455.7l-4.8 3.6M304.8 456.9l-4.8 3.6M307.6 458.1l-4.8 3.6M342.0 463.5L323.6 455.7M323.6 455.7l-4.8 3.6M326.4 456.9l-4.8 3.6M329.1 458.0l-4.8 3.6M363.5 463.5L345.3 455.3M345.3 455.3l-4.9 3.5M348.0 456.5l-4.9 3.5M350.7 457.8l-4.9 3.5M385.0 463.5L367.7 453.4M367.7 453.4l-5.2 3.0M370.3 454.9l-5.2 3.0M372.9 456.4l-5.2 3.0M406.5 463.5L389.8 452.5M389.8 452.5l-5.4 2.7M392.3 454.1l-5.4 2.7M394.8 455.8l-5.4 2.7M428.0 463.5L410.6 453.7M410.6 453.7l-5.2 3.1M413.2 455.1l-5.2 3.1M415.8 456.6l-5.2 3.1M449.5 463.5L431.5 454.7M431.5 454.7l-5.0 3.4M434.2 456.0l-5.0 3.4M436.9 457.4l-5.0 3.4M471.0 463.5L453.2 454.5M453.2 454.5l-5.0 3.3M455.8 455.8l-5.0 3.3M458.5 457.2l-5.0 3.3M492.5 463.5L475.2 453.4M475.2 453.4l-5.2 3.0M477.8 454.9l-5.2 3.0M480.4 456.4l-2.6 1.5M514.0 463.5L496.7 453.4M496.7 453.4l-5.2 3.0M499.3 454.9l-5.2 3.0M501.9 456.5l-2.6 1.5M535.5 463.5L517.6 454.5M517.6 454.5l-5.0 3.3M520.3 455.8l-5.0 3.3M557.0 463.5L538.9 455.0M538.9 455.0l-4.9 3.4M541.6 456.3l-4.9 3.4M578.5 463.5L560.4 455.0M560.4 455.0l-4.9 3.4M563.1 456.3l-4.9 3.4M600.0 463.5L581.1 457.1M581.1 457.1l-4.5 4.0M583.9 458.1l-4.5 4.0M621.5 463.5L601.6 461.5M601.6 461.5l-3.5 4.9M604.6 461.8l-3.5 4.9M643.0 463.5L623.1 461.8M623.1 461.8l-3.4 4.9M626.1 462.0l-3.4 4.9M664.5 463.5L645.5 457.1M645.5 457.1l-4.5 4.0M648.4 458.1l-2.3 2.0M686.0 463.5L666.3 460.2M666.3 460.2l-3.8 4.6M669.2 460.7l-1.9 2.3M707.5 463.5L687.5 463.3M687.5 463.3l-3.1 5.2M690.5 463.3l-1.5 2.6M729.0 463.5L709.4 467.4M709.4 467.4l-1.9 5.7M712.3 466.8l-1.0 2.8M750.5 463.5L734.8 475.9M734.8 475.9l0.9 5.9M737.1 474.0l0.9 5.9M772.0 463.5L756.7 476.4M756.7 476.4l1.0 5.9M759.0 474.4l1.0 5.9M793.5 463.5L778.4 476.6M778.4 476.6l1.1 5.9M780.7 474.7l1.1 5.9M815.0 463.5L802.2 478.9M802.2 478.9l2.1 5.6M804.2 476.6l2.1 5.6M836.5 463.5L827.5 481.4M827.5 481.4l3.3 5.0M828.9 478.7l1.6 2.5M94.8 483.5L93.6 503.5M93.6 503.5l5.0 3.3M93.8 500.5l2.5 1.6M116.2 483.5L115.3 503.5M115.3 503.5l5.0 3.3M115.4 500.5l2.5 1.6M137.8 483.5L131.3 502.4M131.3 502.4l3.9 4.5M132.2 499.6l2.0 2.3M159.2 483.5L146.2 498.7M146.2 498.7l2.0 5.7M148.2 496.4l1.0 2.8M180.8 483.5L165.6 496.6M165.6 496.6l1.1 5.9M167.9 494.6l0.6 2.9M202.2 483.5L186.2 495.5M186.2 495.5l0.7 6.0M188.6 493.7l0.4 3.0M223.8 483.5L204.4 488.7M204.4 488.7l-1.5 5.8M207.3 487.9l-1.5 5.8M210.2 487.2l-0.8 2.9M245.2 483.5L225.3 483.6M225.3 483.6l-3.0 5.2M228.3 483.5l-3.0 5.2M231.3 483.5l-3.0 5.2M266.8 483.5L247.1 479.7M247.1 479.7l-3.9 4.5M250.1 480.2l-3.9 4.5M253.0 480.8l-2.0 2.3M288.2 483.5L268.8 479.0M268.8 479.0l-4.1 4.4M271.7 479.6l-4.1 4.4M274.6 480.3l-4.1 4.4M309.8 483.5L290.5 477.9M290.5 477.9l-4.3 4.1M293.4 478.7l-4.3 4.1M296.3 479.6l-4.3 4.1M299.2 480.4l-4.3 4.1M331.2 483.5L312.6 476.2M312.6 476.2l-4.7 3.7M315.4 477.3l-4.7 3.7M318.2 478.4l-4.7 3.7M321.0 479.5l-2.3 1.9M352.8 483.5L334.4 475.7M334.4 475.7l-4.8 3.6M337.1 476.8l-4.8 3.6M339.9 478.0l-4.8 3.6M374.2 483.5L356.1 475.0M356.1 475.0l-4.9 3.4M358.8 476.3l-4.9 3.4M361.6 477.6l-4.9 3.4M364.3 478.8l-2.5 1.7M395.8 483.5L378.1 474.1M378.1 474.1l-5.1 3.2M380.7 475.5l-5.1 3.2M383.4 476.9l-5.1 3.2M386.0 478.3l-2.5 1.6M417.2 483.5L399.8 473.7M399.8 473.7l-5.2 3.0M402.5 475.1l-5.2 3.0M405.1 476.6l-5.2 3.0M438.8 483.5L421.0 474.3M421.0 474.3l-5.1 3.2M423.7 475.7l-5.1 3.2M426.3 477.1l-5.1 3.2M460.2 483.5L442.4 474.5M442.4 474.5l-5.0 3.3M445.1 475.8l-5.0 3.3M447.7 477.2l-5.0 3.3M481.8 483.5L464.2 473.9M464.2 473.9l-5.1 3.1M466.8 475.4l-5.1 3.1M469.5 476.8l-5.1 3.1M503.2 483.5L485.9 473.6M485.9 473.6l-5.2 3.0M488.5 475.1l-5.2 3.0M491.1 476.5l-5.2 3.0M524.8 483.5L507.1 474.1M507.1 474.1l-5.1 3.2M509.7 475.5l-5.1 3.2M512.4 476.9l-2.5 1.6M546.2 483.5L528.2 474.8M528.2 474.8l-5.0 3.4M530.9 476.1l-5.0 3.4M567.8 483.5L549.6 475.0M549.6 475.0l-4.9 3.4M552.4 476.3l-4.9 3.4M589.2 483.5L570.9 475.5M570.9 475.5l-4.8 3.6M573.7 476.7l-4.8 3.6M610.8 483.5L591.6 477.6M591.6 477.6l-4.4 4.1M594.5 478.5l-4.4 4.1M632.2 483.5L613.0 478.0M613.0 478.0l-4.3 4.2M615.9 478.8l-4.3 4.2M653.8 483.5L636.0 474.3M636.0 474.3l-5.1 3.2M638.7 475.7l-2.5 1.6M675.2 483.5L657.9 473.6M657.9 473.6l-5.2 3.0M660.5 475.1l-2.6 1.5M696.8 483.5L677.7 477.3M677.7 477.3l-4.5 4.0M680.6 478.2l-2.2 2.0M718.2 483.5L698.3 483.9M698.3 483.9l-2.9 5.3M701.3 483.9l-1.4 2.6M739.8 483.5L721.9 492.5M721.9 492.5l-0.4 6.0M724.5 491.1l-0.4 6.0M761.2 483.5L745.7 496.1M745.7 496.1l1.0 5.9M748.1 494.2l1.0 5.9M782.8 483.5L767.5 496.4M767.5 496.4l1.1 5.9M769.8 494.5l1.1 5.9M804.2 483.5L789.4 496.9M789.4 496.9l1.2 5.9M791.6 494.9l1.2 5.9M825.8 483.5L812.1 498.1M812.1 498.1l1.7 5.7M814.1 495.9l1.7 5.7M84.0 503.5L81.1 523.3M81.1 523.3l4.7 3.7M81.5 520.3l4.7 3.7M105.5 503.5L102.7 523.3M102.7 523.3l4.7 3.7M103.1 520.3l4.7 3.7M127.0 503.5L121.0 522.6M121.0 522.6l4.1 4.4M121.9 519.7l4.1 4.4M148.5 503.5L137.6 520.3M137.6 520.3l2.7 5.3M139.2 517.8l2.7 5.3M170.0 503.5L158.3 519.7M158.3 519.7l2.4 5.5M160.0 517.3l2.4 5.5M191.5 503.5L177.6 517.9M177.6 517.9l1.7 5.8M179.7 515.8l1.7 5.8M213.0 503.5L194.9 512.1M194.9 512.1l-0.5 6.0M197.6 510.8l-0.5 6.0M200.4 509.5l-0.2 3.0M234.5 503.5L214.6 505.7M214.6 505.7l-2.4 5.5M217.6 505.4l-2.4 5.5M220.6 505.0l-2.4 5.5M256.0 503.5L236.1 505.2M236.1 505.2l-2.5 5.4M239.1 505.0l-2.5 5.4M242.1 504.7l-2.5 5.4M277.5 503.5L257.6 501.7M257.6 501.7l-3.4 4.9M260.6 502.0l-3.4 4.9M263.6 502.3l-3.4 4.9M266.5 502.5l-1.7 2.5M299.0 503.5L279.6 498.5M320.5 503.5L301.2 498.3M301.2 498.3l-4.2 4.2M304.1 499.1l-4.2 4.2M307.0 499.9l-4.2 4.2M309.9 500.6l-4.2 4.2M312.8 501.4l-2.1 2.1M342.0 503.5L323.1 496.9M323.1 496.9l-4.5 3.9M325.9 497.9l-4.5 3.9M328.8 498.9l-4.5 3.9M331.6 499.9l-4.5 3.9M363.5 503.5L345.2 495.3M345.2 495.3l-4.9 3.5M348.0 496.5l-4.9 3.5M350.7 497.8l-4.9 3.5M353.5 499.0l-4.9 3.5M356.2 500.2l-2.4 1.8M385.0 503.5L366.8 495.2M366.8 495.2l-4.9 3.5M369.5 496.4l-4.9 3.5M372.3 497.7l-4.9 3.5M375.0 498.9l-4.9 3.5M406.5 503.5L388.6 494.6M388.6 494.6l-5.0 3.3M391.3 495.9l-5.0 3.3M394.0 497.3l-5.0 3.3M396.6 498.6l-5.0 3.3M428.0 503.5L410.3 494.1M410.3 494.1l-5.1 3.2M413.0 495.5l-5.1 3.2M415.6 496.9l-5.1 3.2M418.3 498.3l-2.5 1.6M449.5 503.5L431.9 494.0M431.9 494.0l-5.1 3.2M434.5 495.5l-5.1 3.2M437.2 496.9l-5.1 3.2M439.8 498.3l-2.6 1.6M471.0 503.5L453.4 493.9M453.4 493.9l-5.1 3.1M456.1 495.4l-5.1 3.1M458.7 496.8l-5.1 3.1M461.3 498.2l-2.6 1.6M492.5 503.5L475.0 493.8M475.0 493.8l-5.1 3.1M477.6 495.2l-5.1 3.1M480.3 496.7l-5.1 3.1M482.9 498.1l-2.6 1.5M514.0 503.5L496.4 494.0M496.4 494.0l-5.1 3.1M499.0 495.4l-5.1 3.1M501.7 496.8l-5.1 3.1M504.3 498.3l-2.6 1.6M535.5 503.5L517.6 494.5M517.6 494.5l-5.0 3.3M520.3 495.8l-5.0 3.3M523.0 497.2l-5.0 3.3M557.0 503.5L539.0 494.9M539.0 494.9l-4.9 3.4M541.7 496.2l-4.9 3.4M544.4 497.5l-4.9 3.4M578.5 503.5L560.3 495.2M560.3 495.2l-4.9 3.5M563.0 496.4l-4.9 3.5M565.8 497.7l-4.9 3.5M600.0 503.5L581.4 496.3M581.4 496.3l-4.7 3.8M584.2 497.3l-4.7 3.8M586.9 498.4l-2.3 1.9M621.5 503.5L602.3 497.8M602.3 497.8l-4.4 4.1M605.2 498.6l-4.4 4.1M643.0 503.5L624.1 496.9M624.1 496.9l-4.5 3.9M626.9 497.9l-4.5 3.9M664.5 503.5L646.6 494.6M646.6 494.6l-5.0 3.3M649.3 496.0l-2.5 1.7M686.0 503.5L667.5 496.0M667.5 496.0l-4.7 3.7M670.2 497.1l-2.4 1.8M707.5 503.5L687.7 500.9M687.7 500.9l-3.7 4.8M690.6 501.3l-3.7 4.8M729.0 503.5L709.6 508.4M709.6 508.4l-1.6 5.8M712.5 507.6l-1.6 5.8M750.5 503.5L733.7 514.3M733.7 514.3l0.3 6.0M736.2 512.7l0.3 6.0M738.7 511.1l0.1 3.0M772.0 503.5L756.3 515.9M756.3 515.9l0.9 5.9M758.7 514.1l0.9 5.9M761.0 512.2l0.4 3.0M793.5 503.5L778.1 516.3M778.1 516.3l1.0 5.9M780.4 514.4l1.0 5.9M782.7 512.5l0.5 3.0M815.0 503.5L799.9 516.7M799.9 516.7l1.2 5.9M802.2 514.7l1.2 5.9M804.5 512.7l0.6 2.9M836.5 503.5L822.0 517.3M822.0 517.3l1.4 5.8M824.2 515.2l1.4 5.8M94.8 523.5L93.8 543.5M93.8 543.5l5.0 3.2M93.9 540.5l5.0 3.2M116.2 523.5L115.2 543.5M115.2 543.5l5.0 3.3M115.4 540.5l5.0 3.3M137.8 523.5L129.7 541.8M129.7 541.8l3.6 4.8M130.9 539.1l3.6 4.8M159.2 523.5L147.8 539.9M147.8 539.9l2.5 5.4M149.5 537.4l2.5 5.4M180.8 523.5L169.4 540.0M169.4 540.0l2.6 5.4M171.1 537.5l2.6 5.4M202.2 523.5L188.9 538.4M188.9 538.4l1.9 5.7M190.9 536.2l1.9 5.7M223.8 523.5L205.2 530.9M205.2 530.9l-0.9 5.9M208.0 529.8l-0.9 5.9M210.7 528.7l-0.4 3.0M245.2 523.5L225.4 526.1M225.4 526.1l-2.3 5.5M228.4 525.7l-2.3 5.5M231.4 525.3l-2.3 5.5M266.8 523.5L246.9 525.7M246.9 525.7l-2.4 5.5M249.9 525.3l-2.4 5.5M252.8 525.0l-2.4 5.5M288.2 523.5L268.6 519.7M268.6 519.7l-3.9 4.5M271.6 520.3l-3.9 4.5M274.5 520.9l-3.9 4.5M277.4 521.4l-3.9 4.5M280.4 522.0l-2.0 2.3M309.8 523.5L290.4 518.5M331.2 523.5L311.9 518.3M352.8 523.5L334.3 515.9M334.3 515.9l-4.8 3.7M337.0 517.0l-4.8 3.7M339.8 518.2l-4.8 3.7M342.6 519.3l-4.8 3.7M345.4 520.4l-2.4 1.8M374.2 523.5L356.1 515.1M356.1 515.1l-4.9 3.4M358.8 516.3l-4.9 3.4M361.6 517.6l-4.9 3.4M364.3 518.9l-4.9 3.4M367.0 520.1l-2.5 1.7M395.8 523.5L377.5 515.3M377.5 515.3l-4.9 3.5M380.3 516.5l-4.9 3.5M383.0 517.7l-4.9 3.5M385.7 519.0l-4.9 3.5M388.5 520.2l-2.4 1.8M417.2 523.5L399.4 514.5M399.4 514.5l-5.0 3.3M402.1 515.9l-5.0 3.3M404.7 517.2l-5.0 3.3M407.4 518.6l-5.0 3.3M410.1 519.9l-2.5 1.6M438.8 523.5L421.1 514.2M460.2 523.5L442.6 514.1M442.6 514.1l-5.1 3.2M445.3 515.5l-5.1 3.2M447.9 516.9l-5.1 3.2M450.6 518.3l-5.1 3.2M453.2 519.7l-2.5 1.6M481.8 523.5L464.2 514.0M464.2 514.0l-5.1 3.1M466.8 515.4l-5.1 3.1M469.4 516.8l-5.1 3.1M472.1 518.3l-5.1 3.1M503.2 523.5L485.6 514.1M485.6 514.1l-5.1 3.2M488.3 515.5l-5.1 3.2M490.9 516.9l-5.1 3.2M493.5 518.3l-5.1 3.2M496.2 519.7l-2.5 1.6M524.8 523.5L506.9 514.4M506.9 514.4l-5.0 3.3M509.6 515.8l-5.0 3.3M512.3 517.1l-5.0 3.3M514.9 518.5l-5.0 3.3M546.2 523.5L528.2 514.9M528.2 514.9l-4.9 3.4M530.9 516.2l-4.9 3.4M533.6 517.5l-4.9 3.4M536.3 518.8l-4.9 3.4M567.8 523.5L549.6 515.0M549.6 515.0l-4.9 3.4M552.3 516.3l-4.9 3.4M555.1 517.6l-4.9 3.4M557.8 518.9l-4.9 3.4M589.2 523.5L570.9 515.5M570.9 515.5l-4.8 3.6M573.7 516.7l-4.8 3.6M576.4 517.9l-4.8 3.6M579.2 519.1l-2.4 1.8M610.8 523.5L591.7 517.5M591.7 517.5l-4.4 4.1M594.5 518.4l-4.4 4.1M597.4 519.3l-4.4 4.1M632.2 523.5L612.4 521.0M612.4 521.0l-3.6 4.8M615.4 521.4l-3.6 4.8M618.4 521.7l-1.8 2.4M653.8 523.5L633.8 524.3M633.8 524.3l-2.8 5.3M636.8 524.2l-2.8 5.3M639.8 524.1l-1.4 2.7M675.2 523.5L655.3 525.4M655.3 525.4l-2.5 5.5M658.3 525.1l-2.5 5.5M661.3 524.8l-2.5 5.5M696.8 523.5L676.8 523.9M676.8 523.9l-2.9 5.3M679.8 523.8l-2.9 5.3M682.8 523.8l-1.5 2.6M718.2 523.5L698.5 526.5M698.5 526.5l-2.2 5.6M701.4 526.0l-2.2 5.6M704.4 525.6l-1.1 2.8M739.8 523.5L722.3 533.2M722.3 533.2l-0.1 6.0M724.9 531.8l-0.1 6.0M727.5 530.3l-0.0 3.0M761.2 523.5L745.6 536.0M745.6 536.0l0.9 5.9M748.0 534.1l0.9 5.9M750.3 532.2l0.9 5.9M782.8 523.5L767.4 536.3M767.4 536.3l1.0 5.9M769.7 534.4l1.0 5.9M772.0 532.4l1.0 5.9M804.2 523.5L788.8 536.2M788.8 536.2l1.0 5.9M791.1 534.3l1.0 5.9M793.4 532.4l1.0 5.9M825.8 523.5L810.4 536.3M810.4 536.3l1.0 5.9M812.7 534.4l1.0 5.9M815.0 532.4l0.5 3.0M84.0 543.5L83.1 563.5M83.1 563.5l5.1 3.2M83.2 560.5l5.1 3.2M105.5 543.5L105.5 563.5M105.5 563.5l5.2 3.0M105.5 560.5l5.2 3.0M127.0 543.5L126.1 563.5M126.1 563.5l5.1 3.2M126.2 560.5l5.1 3.2M148.5 543.5L140.4 561.8M140.4 561.8l3.5 4.9M141.6 559.0l3.5 4.9M170.0 543.5L161.6 561.6M161.6 561.6l3.4 4.9M162.8 558.9l3.4 4.9M191.5 543.5L185.6 562.6M185.6 562.6l4.1 4.4M186.5 559.7l4.1 4.4M213.0 543.5L203.3 561.0M203.3 561.0l3.1 5.1M204.7 558.4l3.1 5.1M206.2 555.7l1.5 2.6M234.5 543.5L222.8 559.8M222.8 559.8l2.5 5.5M224.6 557.3l2.5 5.5M226.3 554.9l1.2 2.7M256.0 543.5L244.1 559.6M244.1 559.6l2.4 5.5M245.9 557.2l2.4 5.5M247.7 554.8l2.4 5.5M277.5 543.5L260.0 553.1M260.0 553.1l-0.1 6.0M262.6 551.7l-0.1 6.0M265.2 550.2l-0.1 6.0M267.9 548.8l-0.1 3.0M299.0 543.5L279.0 544.6M279.0 544.6l-2.7 5.3M282.0 544.4l-2.7 5.3M285.0 544.2l-2.7 5.3M288.0 544.1l-2.7 5.3M291.0 543.9l-1.4 2.7M320.5 543.5L301.0 539.1M342.0 543.5L322.5 539.2M322.5 539.2l-4.1 4.4M325.4 539.8l-4.1 4.4M328.3 540.5l-4.1 4.4M331.3 541.1l-4.1 4.4M334.2 541.8l-2.0 2.2M363.5 543.5L344.5 537.2M344.5 537.2l-4.5 4.0M347.4 538.2l-4.5 4.0M350.2 539.1l-4.5 4.0M353.1 540.1l-4.5 4.0M355.9 541.0l-2.2 2.0M385.0 543.5L366.4 536.2M366.4 536.2l-4.7 3.7M369.2 537.3l-4.7 3.7M372.0 538.4l-4.7 3.7M374.8 539.5l-4.7 3.7M377.5 540.6l-2.3 1.9M406.5 543.5L388.5 534.8M428.0 543.5L410.3 534.1M414.6 536.4l-2.5 1.6M449.5 543.5L431.8 534.1M436.1 536.4l-2.5 1.6M471.0 543.5L453.3 534.1M492.5 543.5L474.8 534.1M514.0 543.5L496.3 534.2M535.5 543.5L517.5 534.7M517.5 534.7l-5.0 3.3M520.2 536.0l-5.0 3.3M522.9 537.3l-5.0 3.3M525.6 538.7l-5.0 3.3M528.3 540.0l-2.5 1.7M557.0 543.5L538.9 535.0M538.9 535.0l-4.9 3.4M541.6 536.3l-4.9 3.4M544.3 537.6l-4.9 3.4M547.0 538.9l-4.9 3.4M578.5 543.5L560.4 535.1M560.4 535.1l-4.9 3.5M563.1 536.3l-4.9 3.5M565.8 537.6l-4.9 3.5M568.5 538.9l-4.9 3.5M600.0 543.5L581.4 536.2M581.4 536.2l-4.7 3.7M584.2 537.3l-4.7 3.7M587.0 538.4l-4.7 3.7M589.8 539.5l-2.3 1.9M621.5 543.5L601.7 540.4M601.7 540.4l-3.8 4.7M604.7 540.9l-3.8 4.7M607.7 541.4l-3.8 4.7M643.0 543.5L623.1 545.4M623.1 545.4l-2.5 5.5M626.1 545.1l-2.5 5.5M629.1 544.8l-2.5 5.5M664.5 543.5L644.8 547.0M644.8 547.0l-2.1 5.6M647.8 546.4l-2.1 5.6M650.7 545.9l-2.1 5.6M686.0 543.5L666.3 546.7M666.3 546.7l-2.1 5.6M669.2 546.2l-2.1 5.6M672.2 545.7l-2.1 5.6M707.5 543.5L687.7 546.3M687.7 546.3l-2.3 5.6M690.7 545.9l-2.3 5.6M693.6 545.4l-1.1 2.8M729.0 543.5L710.5 551.1M710.5 551.1l-0.8 5.9M713.3 550.0l-0.8 5.9M716.1 548.8l-0.4 3.0M750.5 543.5L734.7 555.7M734.7 555.7l0.8 5.9M737.0 553.9l0.8 5.9M739.4 552.0l0.8 5.9M772.0 543.5L756.7 556.4M756.7 556.4l1.0 5.9M759.0 554.4l1.0 5.9M761.3 552.5l1.0 5.9M793.5 543.5L778.1 556.3M778.1 556.3l1.0 5.9M780.4 554.4l1.0 5.9M782.7 552.5l1.0 5.9M815.0 543.5L799.5 556.1M799.5 556.1l0.9 5.9M801.8 554.2l0.9 5.9M804.1 552.3l0.9 5.9M836.5 543.5L820.8 555.9M820.8 555.9l0.9 5.9M823.2 554.1l0.9 5.9M825.5 552.2l0.4 3.0M94.8 563.5L93.7 583.5M93.7 583.5l5.0 3.3M93.9 580.5l5.0 3.3M116.2 563.5L115.3 583.5M115.3 583.5l5.0 3.3M115.4 580.5l5.0 3.3M137.8 563.5L133.9 583.1M133.9 583.1l4.5 4.0M134.4 580.2l4.5 4.0M159.2 563.5L155.1 583.1M155.1 583.1l4.5 4.0M155.7 580.1l4.5 4.0M180.8 563.5L179.0 583.4M179.0 583.4l4.9 3.5M179.2 580.4l4.9 3.5M202.2 563.5L199.5 583.3M199.5 583.3l4.7 3.7M199.9 580.3l4.7 3.7M223.8 563.5L217.9 582.6M217.9 582.6l4.1 4.4M218.8 579.8l4.1 4.4M219.7 576.9l2.0 2.2M245.2 563.5L241.7 583.2M241.7 583.2l4.6 3.9M242.2 580.2l4.6 3.9M242.8 577.3l2.3 1.9M266.8 563.5L261.6 582.8M261.6 582.8l4.2 4.2M262.4 579.9l4.2 4.2M263.1 577.0l2.1 2.1M288.2 563.5L281.7 582.4M281.7 582.4l3.9 4.5M282.7 579.6l3.9 4.5M283.7 576.7l3.9 4.5M309.8 563.5L299.6 580.7M299.6 580.7l3.0 5.2M301.1 578.1l3.0 5.2M302.6 575.6l3.0 5.2M304.2 573.0l1.5 2.6M331.2 563.5L311.3 563.1M311.3 563.1l-3.1 5.1M314.3 563.2l-3.1 5.1M317.3 563.2l-3.1 5.1M320.3 563.3l-3.1 5.1M323.3 563.4l-1.5 2.6M352.8 563.5L332.8 561.7M374.2 563.5L354.6 560.0M354.6 560.0l-3.9 4.6M357.5 560.5l-3.9 4.6M360.5 561.0l-3.9 4.6M363.4 561.6l-3.9 4.6M366.4 562.1l-1.9 2.3M395.8 563.5L377.0 556.5M377.0 556.5l-4.6 3.8M379.8 557.6l-4.6 3.8M382.6 558.6l-4.6 3.8M385.4 559.7l-4.6 3.8M388.2 560.7l-2.3 1.9M417.2 563.5L399.5 554.3M403.7 556.5l-2.5 1.6M438.8 563.5L421.1 554.1M425.3 556.4l-2.5 1.6M460.2 563.5L442.5 554.2M481.8 563.5L464.1 554.2M503.2 563.5L485.6 554.1M489.8 556.4l-2.5 1.6M524.8 563.5L507.1 554.2M511.3 556.4l-2.5 1.6M546.2 563.5L528.2 554.8M528.2 554.8l-5.0 3.4M530.9 556.1l-5.0 3.4M533.6 557.4l-5.0 3.4M536.3 558.7l-5.0 3.4M567.8 563.5L549.6 555.1M549.6 555.1l-4.9 3.4M552.3 556.3l-4.9 3.4M555.1 557.6l-4.9 3.4M557.8 558.9l-4.9 3.4M589.2 563.5L570.9 555.6M570.9 555.6l-4.8 3.6M573.6 556.8l-4.8 3.6M576.4 557.9l-4.8 3.6M579.2 559.1l-2.4 1.8M610.8 563.5L591.5 558.1M591.5 558.1l-4.3 4.2M594.4 558.9l-4.3 4.2M597.3 559.7l-4.3 4.2M632.2 563.5L612.3 562.9M612.3 562.9l-3.1 5.1M615.3 563.0l-3.1 5.1M618.3 563.1l-3.1 5.1M653.8 563.5L633.9 566.0M633.9 566.0l-2.3 5.5M636.9 565.6l-2.3 5.5M639.9 565.2l-2.3 5.5M675.2 563.5L655.5 566.5M655.5 566.5l-2.2 5.6M658.4 566.1l-2.2 5.6M661.4 565.6l-2.2 5.6M696.8 563.5L676.9 566.3M676.9 566.3l-2.2 5.6M679.9 565.9l-2.2 5.6M682.9 565.5l-2.2 5.6M718.2 563.5L698.9 568.4M698.9 568.4l-1.6 5.8M701.8 567.7l-1.6 5.8M704.7 566.9l-0.8 2.9M739.8 563.5L722.5 573.6M722.5 573.6l0.0 6.0M725.1 572.1l0.0 6.0M727.7 570.6l0.0 3.0M761.2 563.5L745.6 575.9M745.6 575.9l0.9 5.9M747.9 574.0l0.9 5.9M750.3 572.2l0.9 5.9M782.8 563.5L767.3 576.2M767.3 576.2l1.0 5.9M769.6 574.3l1.0 5.9M771.9 572.4l1.0 5.9M804.2 563.5L788.6 576.0M788.6 576.0l0.9 5.9M791.0 574.1l0.9 5.9M793.3 572.3l0.9 5.9M825.8 563.5L809.9 575.7M809.9 575.7l0.8 5.9M812.3 573.8l0.8 5.9M814.6 572.0l0.4 3.0M84.0 583.5L80.7 603.2M80.7 603.2l4.6 3.8M81.2 600.3l4.6 3.8M105.5 583.5L102.6 603.3M102.6 603.3l4.7 3.7M103.0 600.3l4.7 3.7M127.0 583.5L123.0 603.1M123.0 603.1l4.5 4.0M123.6 600.2l4.5 4.0M148.5 583.5L144.0 603.0M144.0 603.0l4.4 4.1M144.6 600.1l4.4 4.1M170.0 583.5L167.3 603.3M167.3 603.3l4.8 3.7M167.7 600.3l4.8 3.7M191.5 583.5L189.3 603.4M189.3 603.4l4.8 3.6M189.6 600.4l4.8 3.6M213.0 583.5L208.3 602.9M208.3 602.9l4.4 4.1M209.0 600.0l4.4 4.1M209.7 597.1l2.2 2.1M234.5 583.5L229.8 602.9M229.8 602.9l4.3 4.1M230.5 600.0l4.3 4.1M231.2 597.1l2.2 2.1M256.0 583.5L251.8 603.0M251.8 603.0l4.4 4.0M252.4 600.1l4.4 4.0M253.0 597.2l2.2 2.0M277.5 583.5L272.1 602.8M272.1 602.8l4.2 4.3M272.9 599.9l4.2 4.3M273.7 597.0l4.2 4.3M299.0 583.5L295.5 603.2M295.5 603.2l4.6 3.9M296.0 600.2l4.6 3.9M296.5 597.3l4.6 3.9M320.5 583.5L306.8 598.1M306.8 598.1l1.7 5.7M308.8 595.9l1.7 5.7M310.9 593.7l1.7 5.7M313.0 591.5l0.9 2.9M342.0 583.5L322.1 582.0M363.5 583.5L343.6 581.8M385.0 583.5L365.4 579.7M365.4 579.7l-3.9 4.5M368.3 580.3l-3.9 4.5M371.3 580.8l-3.9 4.5M374.2 581.4l-3.9 4.5M377.1 582.0l-2.0 2.3M406.5 583.5L387.9 576.2M387.9 576.2l-4.7 3.8M390.7 577.3l-4.7 3.8M393.5 578.4l-4.7 3.8M396.3 579.5l-4.7 3.8M399.0 580.6l-2.3 1.9M428.0 583.5L410.0 574.7M449.5 583.5L431.6 574.5M471.0 583.5L453.2 574.3M492.5 583.5L474.8 574.2M514.0 583.5L496.3 574.2M500.6 576.4l-2.5 1.6M535.5 583.5L517.7 574.4M557.0 583.5L538.9 574.9M538.9 574.9l-4.9 3.4M541.6 576.2l-4.9 3.4M544.4 577.5l-4.9 3.4M547.1 578.8l-4.9 3.4M578.5 583.5L560.2 575.4M560.2 575.4l-4.8 3.5M562.9 576.6l-4.8 3.5M565.7 577.8l-4.8 3.5M568.4 579.1l-2.4 1.8M600.0 583.5L581.2 576.8M581.2 576.8l-4.6 3.9M584.0 577.8l-4.6 3.9M586.8 578.8l-4.6 3.9M589.6 579.8l-2.3 1.9M621.5 583.5L601.8 579.9M601.8 579.9l-3.9 4.6M604.8 580.4l-3.9 4.6M607.7 581.0l-3.9 4.6M643.0 583.5L623.0 583.3M623.0 583.3l-3.0 5.2M626.0 583.3l-3.0 5.2M629.0 583.4l-3.0 5.2M664.5 583.5L644.6 585.1M644.6 585.1l-2.6 5.4M647.6 584.8l-2.6 5.4M650.5 584.6l-2.6 5.4M686.0 583.5L666.1 585.7M666.1 585.7l-2.4 5.5M669.1 585.3l-2.4 5.5M672.1 585.0l-1.2 2.7M707.5 583.5L687.8 586.8M687.8 586.8l-2.1 5.6M690.7 586.3l-2.1 5.6M693.7 585.8l-1.1 2.8M729.0 583.5L710.2 590.2M710.2 590.2l-1.1 5.9M713.0 589.2l-1.1 5.9M715.8 588.2l-0.5 3.0M750.5 583.5L733.4 593.8M733.4 593.8l0.1 6.0M735.9 592.3l0.1 6.0M738.5 590.7l0.1 3.0M772.0 583.5L755.8 595.2M755.8 595.2l0.6 6.0M758.2 593.5l0.6 6.0M760.7 591.7l0.6 6.0M793.5 583.5L777.5 595.5M777.5 595.5l0.7 6.0M779.9 593.7l0.7 6.0M782.3 591.9l0.7 6.0M815.0 583.5L798.8 595.3M798.8 595.3l0.6 6.0M801.3 593.5l0.6 6.0M803.7 591.7l0.3 3.0M836.5 583.5L820.1 594.9M820.1 594.9l0.5 6.0M822.5 593.2l0.5 6.0M825.0 591.5l0.3 3.0M94.8 603.5L89.5 622.8M89.5 622.8l4.2 4.2M90.3 619.9l4.2 4.2M116.2 603.5L110.8 622.8M110.8 622.8l4.2 4.3M111.7 619.9l4.2 4.3M137.8 603.5L132.0 622.7M132.0 622.7l4.1 4.4M132.9 619.8l4.1 4.4M159.2 603.5L154.2 622.9M154.2 622.9l4.3 4.2M155.0 620.0l4.3 4.2M180.8 603.5L176.5 623.0M176.5 623.0l4.4 4.0M177.1 620.1l4.4 4.0M202.2 603.5L197.0 622.8M197.0 622.8l4.2 4.3M197.8 619.9l4.2 4.3M198.6 617.0l2.1 2.1M223.8 603.5L216.9 622.3M216.9 622.3l3.9 4.6M217.9 619.5l3.9 4.6M219.0 616.7l1.9 2.3M245.2 603.5L238.4 622.3M238.4 622.3l3.9 4.6M239.5 619.5l3.9 4.6M240.5 616.7l1.9 2.3M266.8 603.5L259.3 622.1M259.3 622.1l3.7 4.7M260.4 619.3l3.7 4.7M261.5 616.5l3.7 4.7M288.2 603.5L281.6 622.4M281.6 622.4l3.9 4.6M282.6 619.5l3.9 4.6M283.6 616.7l3.9 4.6M309.8 603.5L300.6 621.3M300.6 621.3l3.2 5.1M301.9 618.6l3.2 5.1M303.3 615.9l3.2 5.1M304.7 613.3l1.6 2.5M331.2 603.5L312.1 609.3M312.1 609.3l-1.4 5.8M315.0 608.4l-1.4 5.8M317.8 607.6l-1.4 5.8M320.7 606.7l-1.4 5.8M352.8 603.5L332.8 603.3M332.8 603.3l-3.1 5.2M335.8 603.3l-3.1 5.2M338.8 603.3l-3.1 5.2M341.8 603.4l-3.1 5.2M344.8 603.4l-1.5 2.6M374.2 603.5L354.3 601.6M354.3 601.6l-3.5 4.9M357.3 601.9l-3.5 4.9M360.3 602.1l-3.5 4.9M363.3 602.4l-3.5 4.9M366.3 602.7l-1.7 2.4M395.8 603.5L376.3 598.9M376.3 598.9l-4.1 4.4M379.2 599.6l-4.1 4.4M382.1 600.3l-4.1 4.4M385.0 601.0l-4.1 4.4M388.0 601.7l-2.1 2.2M417.2 603.5L398.5 596.4M398.5 596.4l-4.6 3.8M401.3 597.5l-4.6 3.8M404.2 598.6l-4.6 3.8M407.0 599.6l-4.6 3.8M409.8 600.7l-2.3 1.9M438.8 603.5L420.5 595.3M420.5 595.3l-4.9 3.5M423.2 596.5l-4.9 3.5M426.0 597.8l-4.9 3.5M428.7 599.0l-4.9 3.5M431.5 600.2l-2.4 1.8M460.2 603.5L442.2 594.8M442.2 594.8l-5.0 3.4M444.9 596.1l-5.0 3.4M447.6 597.4l-5.0 3.4M450.3 598.7l-5.0 3.4M453.0 600.0l-2.5 1.7M481.8 603.5L463.9 594.5M463.9 594.5l-5.0 3.3M466.6 595.8l-5.0 3.3M469.3 597.2l-5.0 3.3M471.9 598.5l-5.0 3.3M474.6 599.9l-2.5 1.6M503.2 603.5L485.5 594.3M524.8 603.5L506.9 594.4M506.9 594.4l-5.0 3.3M509.6 595.8l-5.0 3.3M512.3 597.1l-5.0 3.3M514.9 598.5l-5.0 3.3M517.6 599.9l-2.5 1.6M546.2 603.5L528.3 594.8M528.3 594.8l-5.0 3.4M531.0 596.1l-5.0 3.4M533.7 597.4l-5.0 3.4M536.4 598.7l-5.0 3.4M567.8 603.5L549.5 595.3M549.5 595.3l-4.9 3.5M552.3 596.5l-4.9 3.5M555.0 597.7l-4.9 3.5M557.7 599.0l-4.9 3.5M589.2 603.5L570.6 596.2M570.6 596.2l-4.7 3.7M573.4 597.3l-4.7 3.7M576.2 598.4l-4.7 3.7M579.0 599.5l-2.3 1.9M610.8 603.5L591.5 598.0M591.5 598.0l-4.3 4.2M594.4 598.8l-4.3 4.2M597.3 599.6l-4.3 4.2M632.2 603.5L612.5 600.5M612.5 600.5l-3.7 4.7M615.4 601.0l-3.7 4.7M618.4 601.4l-3.7 4.7M653.8 603.5L633.8 602.8M633.8 602.8l-3.2 5.1M636.8 602.9l-3.2 5.1M639.8 603.0l-1.6 2.5M675.2 603.5L655.3 604.2M655.3 604.2l-2.8 5.3M658.3 604.1l-2.8 5.3M661.3 604.0l-1.4 2.7M696.8 603.5L676.8 605.4M676.8 605.4l-2.5 5.5M679.8 605.2l-2.5 5.5M682.8 604.9l-1.2 2.7M718.2 603.5L698.7 607.6M698.7 607.6l-1.9 5.7M701.6 607.0l-1.9 5.7M704.5 606.4l-0.9 2.9M739.8 603.5L721.1 610.7M721.1 610.7l-0.9 5.9M723.9 609.6l-0.9 5.9M726.7 608.5l-0.5 3.0M761.2 603.5L743.7 613.0M743.7 613.0l-0.2 6.0M746.3 611.6l-0.2 6.0M748.9 610.2l-0.1 3.0M782.8 603.5L765.8 614.1M765.8 614.1l0.2 6.0M768.3 612.5l0.2 6.0M770.9 610.9l0.1 3.0M804.2 603.5L787.4 614.3M787.4 614.3l0.3 6.0M789.9 612.7l0.3 6.0M792.5 611.1l0.1 3.0M825.8 603.5L808.8 614.2M808.8 614.2l0.2 6.0M811.4 612.6l0.2 6.0M813.9 611.0l0.1 3.0" fill="none" stroke="#000" stroke-width="1" shape-rendering="crispEdges"/>
<path d="M279.6 498.5L275.4 502.8L283.4 499.5ZM290.4 518.5L286.2 522.8L294.2 519.5ZM311.9 518.3L307.7 522.6L315.7 519.3ZM421.1 514.2L416.0 517.4L424.5 516.0ZM301.0 539.1L296.9 543.5L304.8 540.0ZM388.5 534.8L383.5 538.2L392.0 536.5ZM410.3 534.1L405.2 537.3L413.8 536.0ZM431.8 534.1L426.7 537.3L435.3 536.0ZM453.3 534.1L448.2 537.3L456.8 536.0ZM474.8 534.1L469.7 537.3L478.3 536.0ZM496.3 534.2L491.2 537.4L499.8 536.0ZM332.8 561.7L329.4 566.6L336.7 562.1ZM399.5 554.3L394.4 557.6L402.9 556.1ZM421.1 554.1L416.0 557.3L424.5 556.0ZM442.5 554.2L437.5 557.4L446.0 556.0ZM464.1 554.2L459.0 557.4L467.5 556.0ZM485.6 554.1L480.5 557.3L489.0 555.9ZM507.1 554.2L502.0 557.4L510.5 556.0ZM322.1 582.0L318.7 587.0L325.9 582.3ZM343.6 581.8L340.1 586.7L347.5 582.1ZM410.0 574.7L405.1 578.1L413.5 576.4ZM431.6 574.5L426.6 577.8L435.1 576.2ZM453.2 574.3L448.2 577.6L456.7 576.1ZM474.8 574.2L469.7 577.4L478.3 576.0ZM496.3 574.2L491.2 577.4L499.8 576.0ZM517.7 574.4L512.7 577.7L521.2 576.2ZM485.5 594.3L480.4 597.6L488.9 596.1Z" fill="#000" stroke="#000" stroke-width="0.8"/>
<g fill="none" stroke="#000" stroke-linejoin="round" stroke-linecap="round"><polyline points="240.3,51.0 245.7,56.4 253.2,62.9 257.5,68.2 258.6,73.6 261.8,79.0 266.1,84.4 276.9,90.8 284.4,96.2 298.4,105.9 314.5,115.6 319.9,118.2 330.6,115.6 346.8,110.2 357.5,108.6 368.2,110.2 379.0,113.9 389.8,110.2 400.5,104.8 411.2,101.0 426.3,96.7 437.1,96.2 448.9,99.4 459.6,108.0 465.0,118.8 475.8,117.7 489.7,115.6 497.2,122.0 504.8,126.3 506.9,141.3 505.9,154.2 501.6,161.8 500.5,168.2 495.1,172.5 498.3,177.9 503.7,188.7 511.2,197.2 519.8,206.9 527.9,216.6 531.6,227.3 532.7,230.6 538.1,240.2 542.4,259.6 544.5,265.0 540.2,270.4 548.4,280.2 546.2,297.8 544.5,300.4 536.0,311.2 531.1,328.4 527.9,334.9 526.8,350.4 534.9,363.9 544.5,380.0 555.3,404.7 556.4,411.7 557.5,428.4 563.4,451.5 569.3,461.7 577.3,472.4 584.3,486.4 592.9,501.5 597.2,514.4 593.5,519.8 598.3,529.4 599.4,534.3 602.6,531.6 608.0,535.9 615.5,539.4 626.2,534.8 638.1,532.7 653.1,531.6 667.1,532.7 675.7,530.5 685.4,527.3 700.4,519.8 712.2,509.0 717.6,504.7 726.2,497.2 733.8,486.4 744.5,473.5 748.8,466.0 754.2,453.1 751.0,444.2 755.2,438.1 771.4,431.6 781.0,421.4 782.1,402.6 780.0,392.9 775.1,377.9 785.3,365.0 797.2,357.4 809.0,348.8 821.9,341.3 829.4,339.1 835.9,326.2" stroke-width="3"/><polyline points="837.0,278.9 832.7,275.7 827.3,272.5 825.1,260.7 823.0,251.0 823.0,238.1 818.7,233.8 820.8,219.8 826.7,208.5 831.6,199.4 834.8,192.9" stroke-width="3"/><polyline points="744.5,161.8 755.2,160.7 764.9,163.9 767.1,169.3 774.6,168.2 767.1,175.8 763.8,184.3 758.5,189.7 754.2,191.9 747.7,192.9 742.4,186.5 741.3,175.8 742.4,168.2 744.5,161.8" stroke-width="2.8"/><polyline points="715.5,200.5 717.6,213.4 720.9,224.1 724.1,234.9 728.4,245.6 733.8,256.4 735.9,258.5 731.6,251.0 726.2,240.2 719.8,229.5 715.5,218.8 713.3,208.0 715.5,200.5" stroke-width="2.8"/><polyline points="766.0,268.2 769.2,268.2 772.5,277.9 773.5,288.6 774.6,299.4 776.8,310.1 780.0,319.8 776.8,316.6 771.4,310.1 769.2,299.4 767.1,283.2 766.0,268.2" stroke-width="2.8"/><polyline points="712.2,183.3 715.5,184.3 712.2,191.9 711.2,187.6 712.2,183.3" stroke-width="2.8"/><polyline points="728.4,152.1 737.0,141.3 733.8,141.3 726.2,149.9 728.4,152.1" stroke-width="2.8"/><polyline points="718.7,167.2 721.9,169.3 720.9,171.4 717.6,170.4 718.7,167.2" stroke-width="2.8"/><polyline points="785.3,116.6 790.7,119.8 789.7,132.8 786.4,138.1 787.5,126.3 785.3,116.6" stroke-width="2.8"/><polyline points="688.6,357.4 699.4,349.9 711.2,342.4 710.1,345.6 700.4,353.1 689.7,358.5 688.6,357.4" stroke-width="2.8"/><polyline points="709.0,257.4 713.3,256.4 712.2,266.1 706.9,263.9 709.0,257.4" stroke-width="2.8"/><polyline points="257.5,68.2 266.1,58.6 280.1,57.5" stroke-width="2.8"/><polyline points="276.9,90.8 286.6,80.1 289.8,73.6 280.1,58.6" stroke-width="2.8"/><polyline points="289.8,73.6 298.4,73.6 309.1,83.3 312.4,84.4" stroke-width="2.8"/><polyline points="319.9,118.2 318.8,105.9 310.2,97.3 309.1,83.3" stroke-width="2.8"/><polyline points="312.4,84.4 315.6,73.6 313.4,57.5 313.4,51.0" stroke-width="2.8"/><polyline points="367.2,110.2 368.2,95.1 373.6,79.0 371.5,62.9 370.4,51.0" stroke-width="2.8"/><polyline points="413.4,99.4 406.9,89.8 405.9,73.6 402.6,57.5 403.7,51.0" stroke-width="2.8"/><polyline points="418.2,98.3 417.7,89.8 416.6,68.2 410.2,57.5 411.2,51.0" stroke-width="2.8"/><polyline points="429.5,96.2 429.5,84.4 430.6,68.2 438.1,57.5 439.2,51.0" stroke-width="2.8"/><polyline points="492.9,115.6 497.2,100.5 508.0,89.8 524.1,89.8 534.9,73.6 540.2,62.9 543.5,51.0" stroke-width="2.8"/><polyline points="505.9,141.3 522.0,141.3 540.2,140.3 556.4,141.3 574.6,141.3" stroke-width="2.8"/><polyline points="522.0,141.3 522.0,154.2 505.9,154.2" stroke-width="2.8"/><polyline points="567.1,51.0 561.8,57.5 555.3,98.3 561.8,116.6 574.6,141.3" stroke-width="2.8"/><polyline points="574.6,141.3 599.4,127.4 615.5,118.8 642.4,119.8 658.5,111.2 674.6,111.2 695.0,110.2 712.2,116.6 731.6,127.4 735.9,124.2 760.6,124.2 766.0,118.8 786.4,115.6" stroke-width="2.8"/><polyline points="519.8,206.9 524.1,191.9 534.9,190.8 548.9,186.5 551.0,175.8 556.4,159.6 542.4,151.0 556.4,141.3" stroke-width="2.8"/><polyline points="529.5,218.8 538.1,214.4 545.6,213.4 565.0,211.2 574.6,186.5 588.6,175.8 591.9,165.0 595.1,148.9 600.5,127.4" stroke-width="2.8"/><polyline points="641.3,51.0 645.6,57.5 653.1,68.2 661.7,75.8 672.5,84.4 685.4,95.1 695.0,110.2" stroke-width="2.8"/><polyline points="532.7,230.6 540.2,228.4 572.5,228.4 579.0,240.2 588.6,251.0 604.8,251.0 610.1,240.2 620.9,240.2 634.9,243.5 634.9,267.1 639.1,283.2 658.5,283.2" stroke-width="2.8"/><polyline points="658.5,283.2 658.5,304.8 637.0,304.8 637.0,339.1 652.0,354.2" stroke-width="2.8"/><polyline points="526.8,350.4 545.6,352.0 553.1,352.0 599.4,352.0 626.2,358.5 652.0,354.2 672.5,356.4" stroke-width="2.8"/><polyline points="626.2,358.5 626.2,401.5 615.5,401.5 615.5,431.6 615.5,470.3 577.3,472.4" stroke-width="2.8"/><polyline points="615.5,431.6 626.2,453.1 647.8,439.1 674.6,439.1 689.7,430.5 716.5,403.6" stroke-width="2.8"/><polyline points="672.5,356.4 690.8,380.0 716.5,403.6 737.0,405.8" stroke-width="2.8"/><polyline points="672.5,356.4 690.8,357.4 706.9,343.5 712.2,337.0 727.3,332.7" stroke-width="2.8"/><polyline points="727.3,332.7 754.2,342.4 754.2,363.9 749.9,380.0 737.0,405.8" stroke-width="2.8"/><polyline points="737.0,405.8 744.5,423.0 744.5,440.2 754.2,453.1" stroke-width="2.8"/><polyline points="733.8,442.4 744.5,443.4 745.6,453.1 738.0,458.5 731.6,450.9 733.8,442.4" stroke-width="2.8"/><polyline points="690.8,484.3 701.5,472.4 716.5,482.1 714.4,488.6 706.9,493.9 696.1,490.7 690.8,484.3" stroke-width="2.8"/><polyline points="658.5,283.2 674.6,285.4 696.1,294.0 706.9,302.6 720.9,309.1 717.6,299.4 706.9,288.6 708.0,267.1 711.2,256.4 731.6,254.2" stroke-width="2.8"/><polyline points="727.3,332.7 725.1,324.1 749.9,314.4 757.4,315.5 755.2,299.4 758.5,281.1 755.2,268.2 754.2,265.0 735.9,257.4" stroke-width="2.8"/><polyline points="755.2,268.2 766.0,268.2" stroke-width="2.8"/><polyline points="780.0,319.8 776.8,331.6 785.3,339.1 778.9,348.8 771.4,331.6 771.4,320.9 757.4,315.5" stroke-width="2.8"/><polyline points="775.7,288.6 803.6,288.6 814.4,286.5 834.8,277.9" stroke-width="2.8"/><polyline points="718.7,175.8 733.8,175.8 764.9,175.8 767.1,175.8" stroke-width="2.8"/><polyline points="767.1,175.8 804.7,202.6 821.9,215.5" stroke-width="2.8"/><polyline points="718.7,175.8 721.9,180.1 731.6,175.8" stroke-width="2.8"/><polyline points="712.2,195.1 715.5,200.5" stroke-width="2.8"/><polyline points="718.7,175.8 718.7,165.0 721.9,154.2 728.4,152.1 737.0,141.3 732.7,127.4" stroke-width="2.8"/><polyline points="764.9,175.8 766.0,165.0 772.5,152.1 776.8,143.5 766.0,118.8" stroke-width="2.8"/><polyline points="786.4,115.6 792.9,117.7 809.0,126.3 825.1,127.4 830.5,123.1 841.2,123.1" stroke-width="2.8"/><polyline points="786.4,115.6 776.8,105.9 775.7,95.1 760.6,79.0 757.4,73.6 767.1,57.5 768.2,51.0" stroke-width="2.8"/><polygon points="383.0,66.0 395.0,66.0 400.0,70.0 403.0,75.0 404.0,80.0 406.0,88.0 406.0,98.0 402.0,98.0 398.0,92.0 395.0,87.0 391.0,82.0 387.0,78.0 385.0,73.0" fill="#000" stroke-width="2"/></g>
<polygon points="246.0,243.7 248.2,248.5 253.4,249.1 249.5,252.6 250.6,257.8 246.0,255.2 241.4,257.8 242.5,252.6 238.6,249.1 243.8,248.5" fill="none" stroke="#000" stroke-width="2.5" stroke-linejoin="miter"/><polygon points="339.0,329.5 341.2,334.3 346.4,334.9 342.5,338.4 343.6,343.6 339.0,341.0 334.4,343.6 335.5,338.4 331.6,334.9 336.8,334.3" fill="none" stroke="#000" stroke-width="2.5" stroke-linejoin="miter"/>
</g>
<g stroke="#000" stroke-width="3.5" stroke-linecap="square"><rect x="78.00" y="57.50" width="752.50" height="537.50" fill="none" stroke="#000" stroke-width="3.5"/><line x1="78.00" y1="57.50" x2="78.00" y2="38.50"/><line x1="78.00" y1="595.00" x2="78.00" y2="614.00"/><line x1="185.50" y1="57.50" x2="185.50" y2="48.00"/><line x1="185.50" y1="595.00" x2="185.50" y2="604.50"/><line x1="293.00" y1="57.50" x2="293.00" y2="48.00"/><line x1="293.00" y1="595.00" x2="293.00" y2="604.50"/><line x1="400.50" y1="57.50" x2="400.50" y2="38.50"/><line x1="400.50" y1="595.00" x2="400.50" y2="614.00"/><line x1="508.00" y1="57.50" x2="508.00" y2="48.00"/><line x1="508.00" y1="595.00" x2="508.00" y2="604.50"/><line x1="615.50" y1="57.50" x2="615.50" y2="48.00"/><line x1="615.50" y1="595.00" x2="615.50" y2="604.50"/><line x1="723.00" y1="57.50" x2="723.00" y2="38.50"/><line x1="723.00" y1="595.00" x2="723.00" y2="614.00"/><line x1="830.50" y1="57.50" x2="830.50" y2="48.00"/><line x1="830.50" y1="595.00" x2="830.50" y2="604.50"/><line x1="78.00" y1="57.50" x2="68.50" y2="57.50"/><line x1="830.50" y1="57.50" x2="840.00" y2="57.50"/><line x1="78.00" y1="111.25" x2="68.50" y2="111.25"/><line x1="830.50" y1="111.25" x2="840.00" y2="111.25"/><line x1="78.00" y1="165.00" x2="59.00" y2="165.00"/><line x1="830.50" y1="165.00" x2="849.50" y2="165.00"/><line x1="78.00" y1="218.75" x2="68.50" y2="218.75"/><line x1="830.50" y1="218.75" x2="840.00" y2="218.75"/><line x1="78.00" y1="272.50" x2="68.50" y2="272.50"/><line x1="830.50" y1="272.50" x2="840.00" y2="272.50"/><line x1="78.00" y1="326.25" x2="68.50" y2="326.25"/><line x1="830.50" y1="326.25" x2="840.00" y2="326.25"/><line x1="78.00" y1="380.00" x2="59.00" y2="380.00"/><line x1="830.50" y1="380.00" x2="849.50" y2="380.00"/><line x1="78.00" y1="433.75" x2="68.50" y2="433.75"/><line x1="830.50" y1="433.75" x2="840.00" y2="433.75"/><line x1="78.00" y1="487.50" x2="68.50" y2="487.50"/><line x1="830.50" y1="487.50" x2="840.00" y2="487.50"/><line x1="78.00" y1="541.25" x2="68.50" y2="541.25"/><line x1="830.50" y1="541.25" x2="840.00" y2="541.25"/><line x1="78.00" y1="595.00" x2="59.00" y2="595.00"/><line x1="830.50" y1="595.00" x2="849.50" y2="595.00"/></g>
<g font-family="Liberation Sans, Arial, sans-serif" fill="#000" stroke="#000" stroke-linejoin="round">
<text x="75.4" y="24.6" font-size="33" stroke-width="1.50" textLength="249.5" lengthAdjust="spacingAndGlyphs">Dry PM2.5 (ug/kg)</text>
<text x="623.2" y="25.9" font-size="32" stroke-width="1.50" textLength="209" lengthAdjust="spacingAndGlyphs">2018-09-30_03</text>
<text x="738.5" y="53.9" font-size="26" stroke-width="1.20" textLength="92" lengthAdjust="spacingAndGlyphs">600 hPa</text>
<text transform="translate(43.6 174.6) scale(0.97 1)" font-size="27.5" stroke-width="1.10" text-anchor="end">0</text>
<text transform="translate(43.6 389.6) scale(0.97 1)" font-size="27.5" stroke-width="1.10" text-anchor="end">20S</text>
<text transform="translate(43.6 604.6) scale(0.97 1)" font-size="27.5" stroke-width="1.10" text-anchor="end">40S</text>
<text transform="translate(78.0 649.7) scale(0.92 1)" font-size="27.5" stroke-width="1.10" text-anchor="middle">30W</text>
<text transform="translate(400.5 649.7) scale(0.92 1)" font-size="27.5" stroke-width="1.10" text-anchor="middle">0</text>
<text transform="translate(723.0 649.7) scale(0.92 1)" font-size="27.5" stroke-width="1.10" text-anchor="middle">30E</text>
</g>
<rect x="123.50" y="668.50" width="55.12" height="47.00" fill="#fffffb"/><rect x="178.62" y="668.50" width="55.12" height="47.00" fill="#a0a0ff"/><rect x="233.75" y="668.50" width="55.12" height="47.00" fill="#4848ff"/><rect x="288.88" y="668.50" width="55.12" height="47.00" fill="#0000f0"/><rect x="344.00" y="668.50" width="55.12" height="47.00" fill="#084c98"/><rect x="399.12" y="668.50" width="55.12" height="47.00" fill="#088c40"/><rect x="454.25" y="668.50" width="55.12" height="47.00" fill="#30b818"/><rect x="509.38" y="668.50" width="55.12" height="47.00" fill="#88d808"/><rect x="564.50" y="668.50" width="55.12" height="47.00" fill="#e0f400"/><rect x="619.62" y="668.50" width="55.12" height="47.00" fill="#ffc000"/><rect x="674.75" y="668.50" width="55.12" height="47.00" fill="#ff6600"/><rect x="729.88" y="668.50" width="55.12" height="47.00" fill="#f80800"/>
<g stroke="#000" stroke-width="2.8" fill="none"><rect x="123.50" y="668.50" width="661.50" height="47.00"/>
<line x1="178.62" y1="668.50" x2="178.62" y2="715.50"/>
<line x1="233.75" y1="668.50" x2="233.75" y2="715.50"/>
<line x1="288.88" y1="668.50" x2="288.88" y2="715.50"/>
<line x1="344.00" y1="668.50" x2="344.00" y2="715.50"/>
<line x1="399.12" y1="668.50" x2="399.12" y2="715.50"/>
<line x1="454.25" y1="668.50" x2="454.25" y2="715.50"/>
<line x1="509.38" y1="668.50" x2="509.38" y2="715.50"/>
<line x1="564.50" y1="668.50" x2="564.50" y2="715.50"/>
<line x1="619.62" y1="668.50" x2="619.62" y2="715.50"/>
<line x1="674.75" y1="668.50" x2="674.75" y2="715.50"/>
<line x1="729.88" y1="668.50" x2="729.88" y2="715.50"/>
</g>
<g font-family="Liberation Sans, Arial, sans-serif" fill="#000" stroke="#000" stroke-width="1.10" stroke-linejoin="round" font-size="27.5" text-anchor="middle">
<text transform="translate(178.62 749) scale(0.86 1)">0.1</text>
<text transform="translate(233.75 749) scale(0.86 1)">1</text>
<text transform="translate(288.88 749) scale(0.86 1)">2</text>
<text transform="translate(344.00 749) scale(0.86 1)">5</text>
<text transform="translate(399.12 749) scale(0.86 1)">10</text>
<text transform="translate(454.25 749) scale(0.86 1)">20</text>
<text transform="translate(509.38 749) scale(0.86 1)">40</text>
<text transform="translate(564.50 749) scale(0.86 1)">60</text>
<text transform="translate(619.62 749) scale(0.86 1)">100</text>
<text transform="translate(674.75 749) scale(0.86 1)">150</text>
<text transform="translate(729.88 749) scale(0.86 1)">200</text>
</g>
</svg>
</body></html>
